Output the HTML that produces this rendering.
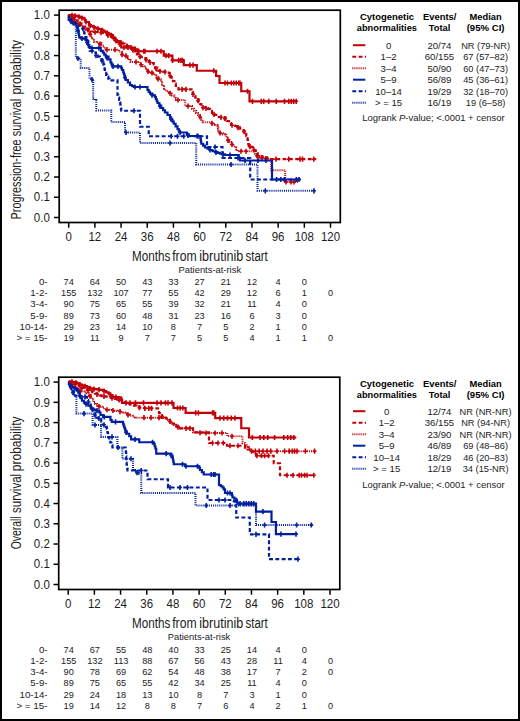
<!DOCTYPE html>
<html><head><meta charset="utf-8"><style>
html,body{margin:0;padding:0;background:#fff;}
body{width:520px;height:721px;overflow:hidden;position:relative;}
svg{position:absolute;left:0;top:0;display:block;font-family:"Liberation Sans",sans-serif;}
text{fill:#1c1c1c;}
</style></head><body>
<svg width="520" height="721" viewBox="0 0 520 721">
<rect x="1" y="1" width="518" height="719" fill="#fff" stroke="#000" stroke-width="2"/>
<g transform="translate(0.0,0)">
<rect x="59.2" y="10.20" width="281.1" height="212.3" fill="none" stroke="#000" stroke-width="1.7"/>
<line x1="54.0" y1="15.10" x2="59.2" y2="15.10" stroke="#000" stroke-width="1.5"/>
<line x1="54.0" y1="35.34" x2="59.2" y2="35.34" stroke="#000" stroke-width="1.5"/>
<line x1="54.0" y1="55.58" x2="59.2" y2="55.58" stroke="#000" stroke-width="1.5"/>
<line x1="54.0" y1="75.82" x2="59.2" y2="75.82" stroke="#000" stroke-width="1.5"/>
<line x1="54.0" y1="96.06" x2="59.2" y2="96.06" stroke="#000" stroke-width="1.5"/>
<line x1="54.0" y1="116.30" x2="59.2" y2="116.30" stroke="#000" stroke-width="1.5"/>
<line x1="54.0" y1="136.54" x2="59.2" y2="136.54" stroke="#000" stroke-width="1.5"/>
<line x1="54.0" y1="156.78" x2="59.2" y2="156.78" stroke="#000" stroke-width="1.5"/>
<line x1="54.0" y1="177.02" x2="59.2" y2="177.02" stroke="#000" stroke-width="1.5"/>
<line x1="54.0" y1="197.26" x2="59.2" y2="197.26" stroke="#000" stroke-width="1.5"/>
<line x1="54.0" y1="217.50" x2="59.2" y2="217.50" stroke="#000" stroke-width="1.5"/>
<line x1="68.70" y1="222.50" x2="68.70" y2="227.70" stroke="#000" stroke-width="1.5"/>
<text x="68.70" y="240.50" font-size="12.0" text-anchor="middle" textLength="6.4" lengthAdjust="spacingAndGlyphs">0</text>
<line x1="94.88" y1="222.50" x2="94.88" y2="227.70" stroke="#000" stroke-width="1.5"/>
<text x="94.88" y="240.50" font-size="12.0" text-anchor="middle" textLength="12.79" lengthAdjust="spacingAndGlyphs">12</text>
<line x1="121.06" y1="222.50" x2="121.06" y2="227.70" stroke="#000" stroke-width="1.5"/>
<text x="121.06" y="240.50" font-size="12.0" text-anchor="middle" textLength="12.79" lengthAdjust="spacingAndGlyphs">24</text>
<line x1="147.24" y1="222.50" x2="147.24" y2="227.70" stroke="#000" stroke-width="1.5"/>
<text x="147.24" y="240.50" font-size="12.0" text-anchor="middle" textLength="12.79" lengthAdjust="spacingAndGlyphs">36</text>
<line x1="173.42" y1="222.50" x2="173.42" y2="227.70" stroke="#000" stroke-width="1.5"/>
<text x="173.42" y="240.50" font-size="12.0" text-anchor="middle" textLength="12.79" lengthAdjust="spacingAndGlyphs">48</text>
<line x1="199.60" y1="222.50" x2="199.60" y2="227.70" stroke="#000" stroke-width="1.5"/>
<text x="199.60" y="240.50" font-size="12.0" text-anchor="middle" textLength="12.79" lengthAdjust="spacingAndGlyphs">60</text>
<line x1="225.78" y1="222.50" x2="225.78" y2="227.70" stroke="#000" stroke-width="1.5"/>
<text x="225.78" y="240.50" font-size="12.0" text-anchor="middle" textLength="12.79" lengthAdjust="spacingAndGlyphs">72</text>
<line x1="251.96" y1="222.50" x2="251.96" y2="227.70" stroke="#000" stroke-width="1.5"/>
<text x="251.96" y="240.50" font-size="12.0" text-anchor="middle" textLength="12.79" lengthAdjust="spacingAndGlyphs">84</text>
<line x1="278.14" y1="222.50" x2="278.14" y2="227.70" stroke="#000" stroke-width="1.5"/>
<text x="278.14" y="240.50" font-size="12.0" text-anchor="middle" textLength="12.79" lengthAdjust="spacingAndGlyphs">96</text>
<line x1="304.32" y1="222.50" x2="304.32" y2="227.70" stroke="#000" stroke-width="1.5"/>
<text x="304.32" y="240.50" font-size="12.0" text-anchor="middle" textLength="19.19" lengthAdjust="spacingAndGlyphs">108</text>
<line x1="330.50" y1="222.50" x2="330.50" y2="227.70" stroke="#000" stroke-width="1.5"/>
<text x="330.50" y="240.50" font-size="12.0" text-anchor="middle" textLength="19.19" lengthAdjust="spacingAndGlyphs">120</text>
</g>
<path d="M68.70,15.00 H72.00 V18.00 H74.75 V20.50 H77.50 V23.00 H79.45 V24.75 H81.40 V26.50 H83.45 V28.25 H85.50 V30.00 H88.30 V31.00 H89.75 V33.65 H91.20 V36.30 H92.17 V38.23 H93.13 V40.17 H94.10 V42.10 H96.50 V42.60 H98.90 V43.10 H101.30 V45.50 H103.70 V47.90 H105.70 V49.70 L117.20,49.70 H119.10 V51.70 H122.00 V54.60 H124.65 V55.50 H127.30 V56.40 H128.03 V58.20 H128.75 V60.00 H130.60 V62.00 L138.75,62.00 H140.00 V63.75 H142.50 V66.25 H144.38 V67.50 H146.25 V68.75 H147.50 V71.25 H149.38 V71.88 H151.25 V72.50 H153.75 V73.75 H155.00 V75.62 H156.25 V77.50 H158.75 V79.40 H161.25 V82.50 H162.19 V84.55 H163.12 V86.60 H164.06 V88.65 H165.00 V90.70 H167.00 V91.35 H169.00 V92.00 H170.35 V93.70 H171.70 V95.40 H174.40 V98.00 H175.80 V100.00 L185.20,100.00 L185.20,106.10 L190.60,106.10 H192.00 V108.80 H194.00 V110.85 H196.00 V112.90 H198.00 V114.95 H200.00 V117.00 H201.35 V119.65 H202.70 V122.30 L210.00,122.30 H212.50 V123.63 H215.00 V124.97 H217.50 V126.30 H217.92 V128.37 H218.33 V130.43 H218.75 V132.50 H220.83 V133.33 H222.92 V134.17 H225.00 V135.00 H226.25 V137.50 H227.50 V140.00 H229.38 V141.88 H231.25 V143.75 H233.12 V145.62 H235.00 V147.50 H236.25 V149.38 H237.50 V151.25 L252.50,151.25 H255.00 V153.75 H256.88 V155.62 H258.75 V157.50 H260.94 V157.81 H263.12 V158.12 H265.31 V158.44 H267.50 V158.75 H269.40 V158.97 H271.30 V159.20 L271.30,170.30 L285.20,170.30 L285.20,182.00 L298.20,182.00" fill="none" stroke="#c30008" stroke-width="2.0" stroke-dasharray="1 1.08"/>
<path d="M90.00,31.51V36.71M88.10,34.11H91.90" stroke="#c30008" stroke-width="1.6" fill="none"/>
<path d="M100.00,41.60V46.80M98.10,44.20H101.90" stroke="#c30008" stroke-width="1.6" fill="none"/>
<path d="M107.00,47.10V52.30M105.10,49.70H108.90" stroke="#c30008" stroke-width="1.6" fill="none"/>
<path d="M115.00,47.10V52.30M113.10,49.70H116.90" stroke="#c30008" stroke-width="1.6" fill="none"/>
<path d="M122.00,52.00V57.20M120.10,54.60H123.90" stroke="#c30008" stroke-width="1.6" fill="none"/>
<path d="M126.00,53.36V58.56M124.10,55.96H127.90" stroke="#c30008" stroke-width="1.6" fill="none"/>
<path d="M136.00,59.40V64.60M134.10,62.00H137.90" stroke="#c30008" stroke-width="1.6" fill="none"/>
<path d="M141.00,62.15V67.35M139.10,64.75H142.90" stroke="#c30008" stroke-width="1.6" fill="none"/>
<path d="M148.00,68.82V74.02M146.10,71.42H149.90" stroke="#c30008" stroke-width="1.6" fill="none"/>
<path d="M152.00,70.28V75.47M150.10,72.88H153.90" stroke="#c30008" stroke-width="1.6" fill="none"/>
<path d="M158.00,76.23V81.43M156.10,78.83H159.90" stroke="#c30008" stroke-width="1.6" fill="none"/>
<path d="M170.00,90.66V95.86M168.10,93.26H171.90" stroke="#c30008" stroke-width="1.6" fill="none"/>
<path d="M178.00,97.40V102.60M176.10,100.00H179.90" stroke="#c30008" stroke-width="1.6" fill="none"/>
<path d="M188.00,103.50V108.70M186.10,106.10H189.90" stroke="#c30008" stroke-width="1.6" fill="none"/>
<path d="M200.00,114.40V119.60M198.10,117.00H201.90" stroke="#c30008" stroke-width="1.6" fill="none"/>
<path d="M212.00,120.77V125.97M210.10,123.37H213.90" stroke="#c30008" stroke-width="1.6" fill="none"/>
<path d="M220.00,130.40V135.60M218.10,133.00H221.90" stroke="#c30008" stroke-width="1.6" fill="none"/>
<path d="M228.00,137.90V143.10M226.10,140.50H229.90" stroke="#c30008" stroke-width="1.6" fill="none"/>
<path d="M232.00,141.90V147.10M230.10,144.50H233.90" stroke="#c30008" stroke-width="1.6" fill="none"/>
<path d="M241.00,148.65V153.85M239.10,151.25H242.90" stroke="#c30008" stroke-width="1.6" fill="none"/>
<path d="M246.00,148.65V153.85M244.10,151.25H247.90" stroke="#c30008" stroke-width="1.6" fill="none"/>
<path d="M257.00,153.15V158.35M255.10,155.75H258.90" stroke="#c30008" stroke-width="1.6" fill="none"/>
<path d="M262.00,155.36V160.56M260.10,157.96H263.90" stroke="#c30008" stroke-width="1.6" fill="none"/>
<path d="M266.00,155.94V161.14M264.10,158.54H267.90" stroke="#c30008" stroke-width="1.6" fill="none"/>
<path d="M286.00,179.40V184.60M284.10,182.00H287.90" stroke="#c30008" stroke-width="1.6" fill="none"/>
<path d="M291.00,179.40V184.60M289.10,182.00H292.90" stroke="#c30008" stroke-width="1.6" fill="none"/>
<path d="M294.00,179.40V184.60M292.10,182.00H295.90" stroke="#c30008" stroke-width="1.6" fill="none"/>
<path d="M68.70,15.00 H70.50 V18.00 H72.00 V20.00 H72.75 V22.00 H73.50 V24.00 H75.80 V26.00 L75.80,57.50 H77.80 V58.50 L80.70,58.50 L80.70,68.00 L89.50,68.00 L89.50,78.70 H92.20 V79.60 L93.20,79.60 L93.20,98.75 H95.00 V100.00 L96.25,100.00 L96.25,110.50 L111.25,110.50 L111.25,122.00 L125.00,122.00 L125.00,132.50 L140.00,132.50 L140.00,143.00 L196.25,143.00 L196.25,164.50 L257.50,164.50 L257.50,190.80 L314.60,190.80" fill="none" stroke="#0020a0" stroke-width="2.0" stroke-dasharray="1 1.08"/>
<path d="M73.00,20.07V25.27M71.10,22.67H74.90" stroke="#0020a0" stroke-width="1.6" fill="none"/>
<path d="M78.00,55.90V61.10M76.10,58.50H79.90" stroke="#0020a0" stroke-width="1.6" fill="none"/>
<path d="M92.00,76.93V82.13M90.10,79.53H93.90" stroke="#0020a0" stroke-width="1.6" fill="none"/>
<path d="M126.00,129.90V135.10M124.10,132.50H127.90" stroke="#0020a0" stroke-width="1.6" fill="none"/>
<path d="M170.00,140.40V145.60M168.10,143.00H171.90" stroke="#0020a0" stroke-width="1.6" fill="none"/>
<path d="M231.00,161.90V167.10M229.10,164.50H232.90" stroke="#0020a0" stroke-width="1.6" fill="none"/>
<path d="M265.30,188.20V193.40M263.40,190.80H267.20" stroke="#0020a0" stroke-width="1.6" fill="none"/>
<path d="M314.00,188.20V193.40M312.10,190.80H315.90" stroke="#0020a0" stroke-width="1.6" fill="none"/>
<path d="M68.70,15.00 H69.35 V17.50 H70.00 V20.00 H72.00 V21.00 H74.00 V22.00 H75.75 V23.50 H77.50 V25.00 H79.25 V26.00 H81.00 V27.00 H83.50 V29.00 H83.83 V31.00 H84.17 V33.00 H84.50 V35.00 H85.45 V37.10 H86.40 V39.20 H87.35 V41.15 H88.30 V43.10 H88.80 V45.05 H89.30 V47.00 H89.55 V48.90 H89.80 V50.80 L95.00,50.80 H95.50 V53.20 H96.00 V55.60 H97.95 V56.55 H99.90 V57.50 H101.35 V59.90 H102.80 V62.30 H103.50 V64.70 H104.20 V67.10 H104.53 V69.03 H104.87 V70.97 H105.20 V72.90 H106.15 V74.80 H107.10 V76.70 H108.30 V78.55 H109.50 V80.40 L117.50,80.40 L117.50,95.00 H118.33 V97.50 H119.17 V100.00 H120.00 V102.50 H120.31 V104.56 H120.62 V106.62 H120.94 V108.69 H121.25 V110.75 L140.00,110.75 L140.00,126.75 L148.75,126.75 L148.75,136.25 L207.00,136.25 L207.00,147.00 L222.50,147.00 L222.50,158.00 L250.20,158.00 L250.20,179.50 L300.00,179.50" fill="none" stroke="#0020a0" stroke-width="2.2" stroke-dasharray="3.9 2.4"/>
<path d="M73.00,18.90V24.10M71.10,21.50H74.90" stroke="#0020a0" stroke-width="1.6" fill="none"/>
<path d="M83.00,26.00V31.20M81.10,28.60H84.90" stroke="#0020a0" stroke-width="1.6" fill="none"/>
<path d="M92.00,48.20V53.40M90.10,50.80H93.90" stroke="#0020a0" stroke-width="1.6" fill="none"/>
<path d="M96.00,53.00V58.20M94.10,55.60H97.90" stroke="#0020a0" stroke-width="1.6" fill="none"/>
<path d="M102.00,58.38V63.58M100.10,60.98H103.90" stroke="#0020a0" stroke-width="1.6" fill="none"/>
<path d="M134.00,108.15V113.35M132.10,110.75H135.90" stroke="#0020a0" stroke-width="1.6" fill="none"/>
<path d="M171.25,133.65V138.85M169.35,136.25H173.15" stroke="#0020a0" stroke-width="1.6" fill="none"/>
<path d="M177.50,133.65V138.85M175.60,136.25H179.40" stroke="#0020a0" stroke-width="1.6" fill="none"/>
<path d="M183.75,133.65V138.85M181.85,136.25H185.65" stroke="#0020a0" stroke-width="1.6" fill="none"/>
<path d="M198.00,133.65V138.85M196.10,136.25H199.90" stroke="#0020a0" stroke-width="1.6" fill="none"/>
<path d="M215.00,144.40V149.60M213.10,147.00H216.90" stroke="#0020a0" stroke-width="1.6" fill="none"/>
<path d="M238.00,155.40V160.60M236.10,158.00H239.90" stroke="#0020a0" stroke-width="1.6" fill="none"/>
<path d="M68.70,15.00 L68.70,20.00 H72.00 V22.50 H73.90 V23.15 H75.80 V23.80 H76.47 V25.73 H77.13 V27.67 H77.80 V29.60 H78.27 V32.17 H78.73 V34.73 H79.20 V37.30 H80.70 V38.30 H83.50 V38.75 H85.50 V40.20 H87.40 V43.10 H88.10 V45.05 H88.80 V47.00 H89.80 V48.00 L99.90,48.00 H100.80 V50.80 H102.80 V52.70 H104.25 V54.60 H105.70 V56.50 H108.50 V59.40 H110.50 V62.30 H111.45 V64.35 H112.40 V66.40 L120.50,66.40 H121.25 V68.20 H122.00 V70.00 H123.25 V72.50 H123.88 V74.25 H124.50 V76.00 H125.12 V78.00 H125.75 V80.00 H127.88 V82.50 H130.00 V85.00 H131.88 V86.00 H133.75 V87.00 L145.00,87.00 H147.50 V90.00 H148.75 V91.88 H150.00 V93.75 H152.50 V95.38 H155.00 V97.00 H155.83 V99.00 H156.67 V101.00 H157.50 V103.00 H159.38 V105.50 H161.25 V108.00 H163.12 V110.25 H165.00 V112.50 H167.50 V115.00 H170.00 V117.50 H171.25 V119.58 H172.50 V121.67 H173.75 V123.75 H175.62 V126.38 H177.50 V129.00 H178.75 V130.75 H180.00 V132.50 L185.00,132.50 H186.88 V134.25 H188.75 V136.00 L200.00,136.00 H200.31 V137.94 H200.62 V139.88 H200.94 V141.81 H201.25 V143.75 H203.12 V145.62 H205.00 V147.50 H207.50 V148.75 H210.00 V150.00 H212.50 V151.25 H215.00 V152.08 H217.50 V152.92 H220.00 V153.75 H222.50 V154.38 H225.00 V155.00 L237.50,155.00 H238.75 V157.75 H240.00 V160.50 L272.00,160.50 L272.00,179.50 L300.80,179.50" fill="none" stroke="#0020a0" stroke-width="2.2"/>
<path d="M71.00,19.14V24.34M69.10,21.74H72.90" stroke="#0020a0" stroke-width="1.6" fill="none"/>
<path d="M74.00,20.58V25.78M72.10,23.18H75.90" stroke="#0020a0" stroke-width="1.6" fill="none"/>
<path d="M78.00,28.10V33.30M76.10,30.70H79.90" stroke="#0020a0" stroke-width="1.6" fill="none"/>
<path d="M82.00,35.91V41.11M80.10,38.51H83.90" stroke="#0020a0" stroke-width="1.6" fill="none"/>
<path d="M87.00,39.89V45.09M85.10,42.49H88.90" stroke="#0020a0" stroke-width="1.6" fill="none"/>
<path d="M92.00,45.40V50.60M90.10,48.00H93.90" stroke="#0020a0" stroke-width="1.6" fill="none"/>
<path d="M98.75,45.40V50.60M96.85,48.00H100.65" stroke="#0020a0" stroke-width="1.6" fill="none"/>
<path d="M107.00,55.25V60.45M105.10,57.85H108.90" stroke="#0020a0" stroke-width="1.6" fill="none"/>
<path d="M113.00,63.80V69.00M111.10,66.40H114.90" stroke="#0020a0" stroke-width="1.6" fill="none"/>
<path d="M118.00,63.80V69.00M116.10,66.40H119.90" stroke="#0020a0" stroke-width="1.6" fill="none"/>
<path d="M125.00,75.00V80.20M123.10,77.60H126.90" stroke="#0020a0" stroke-width="1.6" fill="none"/>
<path d="M135.00,84.40V89.60M133.10,87.00H136.90" stroke="#0020a0" stroke-width="1.6" fill="none"/>
<path d="M140.00,84.40V89.60M138.10,87.00H141.90" stroke="#0020a0" stroke-width="1.6" fill="none"/>
<path d="M152.00,92.45V97.65M150.10,95.05H153.90" stroke="#0020a0" stroke-width="1.6" fill="none"/>
<path d="M160.00,103.73V108.93M158.10,106.33H161.90" stroke="#0020a0" stroke-width="1.6" fill="none"/>
<path d="M171.00,116.57V121.77M169.10,119.17H172.90" stroke="#0020a0" stroke-width="1.6" fill="none"/>
<path d="M180.00,129.90V135.10M178.10,132.50H181.90" stroke="#0020a0" stroke-width="1.6" fill="none"/>
<path d="M188.00,132.70V137.90M186.10,135.30H189.90" stroke="#0020a0" stroke-width="1.6" fill="none"/>
<path d="M197.00,133.40V138.60M195.10,136.00H198.90" stroke="#0020a0" stroke-width="1.6" fill="none"/>
<path d="M210.00,147.40V152.60M208.10,150.00H211.90" stroke="#0020a0" stroke-width="1.6" fill="none"/>
<path d="M216.00,149.82V155.02M214.10,152.42H217.90" stroke="#0020a0" stroke-width="1.6" fill="none"/>
<path d="M223.00,151.90V157.10M221.10,154.50H224.90" stroke="#0020a0" stroke-width="1.6" fill="none"/>
<path d="M230.00,152.40V157.60M228.10,155.00H231.90" stroke="#0020a0" stroke-width="1.6" fill="none"/>
<path d="M245.00,157.90V163.10M243.10,160.50H246.90" stroke="#0020a0" stroke-width="1.6" fill="none"/>
<path d="M258.00,157.90V163.10M256.10,160.50H259.90" stroke="#0020a0" stroke-width="1.6" fill="none"/>
<path d="M266.00,157.90V163.10M264.10,160.50H267.90" stroke="#0020a0" stroke-width="1.6" fill="none"/>
<path d="M276.50,176.90V182.10M274.60,179.50H278.40" stroke="#0020a0" stroke-width="1.6" fill="none"/>
<path d="M280.90,176.90V182.10M279.00,179.50H282.80" stroke="#0020a0" stroke-width="1.6" fill="none"/>
<path d="M284.30,176.90V182.10M282.40,179.50H286.20" stroke="#0020a0" stroke-width="1.6" fill="none"/>
<path d="M296.40,176.90V182.10M294.50,179.50H298.30" stroke="#0020a0" stroke-width="1.6" fill="none"/>
<path d="M299.00,176.90V182.10M297.10,179.50H300.90" stroke="#0020a0" stroke-width="1.6" fill="none"/>
<path d="M68.70,15.00 H71.00 V18.00 H73.17 V19.17 H75.33 V20.33 H77.50 V21.50 H79.45 V23.25 H81.40 V25.00 H83.30 V26.50 H85.20 V28.00 H87.10 V29.25 H89.00 V30.50 H90.95 V31.50 H92.90 V32.50 H94.85 V32.25 H96.80 V32.00 H98.70 V32.25 H100.60 V32.50 H102.55 V33.00 H104.50 V33.50 H106.67 V34.67 H108.83 V35.83 H111.00 V37.00 H113.27 V38.33 H115.53 V39.67 H117.80 V41.00 H120.07 V42.33 H122.33 V43.67 H124.60 V45.00 H126.67 V46.00 H128.75 V47.00 H130.62 V48.25 H132.50 V49.50 H135.00 V52.50 H136.88 V54.38 H138.75 V56.25 H141.25 V57.17 H143.75 V58.10 H146.25 V60.00 H148.75 V62.00 H151.25 V63.00 H153.75 V64.40 H155.00 V67.50 H157.50 V70.60 H160.00 V71.25 H162.50 V71.62 H165.00 V72.00 H166.88 V72.50 H168.75 V73.00 H169.73 V75.07 H170.72 V77.13 H171.70 V79.20 H173.00 V81.20 H174.40 V83.60 H175.80 V86.00 H178.50 V89.30 L190.60,89.30 H192.60 V92.00 H192.95 V94.00 H193.30 V96.00 H195.30 V97.70 H197.30 V99.40 H198.65 V101.70 H200.00 V104.00 H201.35 V105.75 H202.70 V107.50 H205.35 V108.15 H208.00 V108.80 H210.00 V110.85 H212.00 V112.90 H214.75 V114.95 H217.50 V117.00 H219.73 V117.20 H221.97 V117.40 H224.20 V117.60 H225.55 V119.30 H226.90 V121.00 H228.95 V123.00 H231.00 V125.00 H233.00 V125.50 H235.00 V126.00 H237.50 V127.38 H240.00 V128.75 H241.88 V130.00 H243.75 V131.25 H245.00 V133.75 H246.25 V136.25 H246.88 V138.12 H247.50 V140.00 H247.92 V142.08 H248.33 V144.17 H248.75 V146.25 H250.62 V146.88 H252.50 V147.50 H254.15 V150.25 H255.80 V153.00 H257.50 V155.60 H259.80 V156.17 H262.10 V156.73 H264.40 V157.30 H267.00 V158.25 H269.60 V159.20 L316.30,159.20" fill="none" stroke="#c30008" stroke-width="2.2" stroke-dasharray="3.9 2.4"/>
<path d="M74.00,17.02V22.22M72.10,19.62H75.90" stroke="#c30008" stroke-width="1.6" fill="none"/>
<path d="M80.00,21.14V26.34M78.10,23.74H81.90" stroke="#c30008" stroke-width="1.6" fill="none"/>
<path d="M88.00,27.24V32.44M86.10,29.84H89.90" stroke="#c30008" stroke-width="1.6" fill="none"/>
<path d="M95.00,29.63V34.83M93.10,32.23H96.90" stroke="#c30008" stroke-width="1.6" fill="none"/>
<path d="M101.00,30.00V35.20M99.10,32.60H102.90" stroke="#c30008" stroke-width="1.6" fill="none"/>
<path d="M108.00,32.78V37.98M106.10,35.38H109.90" stroke="#c30008" stroke-width="1.6" fill="none"/>
<path d="M114.00,36.16V41.36M112.10,38.76H115.90" stroke="#c30008" stroke-width="1.6" fill="none"/>
<path d="M121.00,40.28V45.48M119.10,42.88H122.90" stroke="#c30008" stroke-width="1.6" fill="none"/>
<path d="M127.00,43.56V48.76M125.10,46.16H128.90" stroke="#c30008" stroke-width="1.6" fill="none"/>
<path d="M133.00,47.50V52.70M131.10,50.10H134.90" stroke="#c30008" stroke-width="1.6" fill="none"/>
<path d="M140.00,54.11V59.31M138.10,56.71H141.90" stroke="#c30008" stroke-width="1.6" fill="none"/>
<path d="M146.00,57.21V62.41M144.10,59.81H147.90" stroke="#c30008" stroke-width="1.6" fill="none"/>
<path d="M150.00,59.90V65.10M148.10,62.50H151.90" stroke="#c30008" stroke-width="1.6" fill="none"/>
<path d="M156.00,66.14V71.34M154.10,68.74H157.90" stroke="#c30008" stroke-width="1.6" fill="none"/>
<path d="M160.00,68.65V73.85M158.10,71.25H161.90" stroke="#c30008" stroke-width="1.6" fill="none"/>
<path d="M165.00,69.40V74.60M163.10,72.00H166.90" stroke="#c30008" stroke-width="1.6" fill="none"/>
<path d="M170.00,73.03V78.23M168.10,75.63H171.90" stroke="#c30008" stroke-width="1.6" fill="none"/>
<path d="M182.00,86.70V91.90M180.10,89.30H183.90" stroke="#c30008" stroke-width="1.6" fill="none"/>
<path d="M186.00,86.70V91.90M184.10,89.30H187.90" stroke="#c30008" stroke-width="1.6" fill="none"/>
<path d="M193.00,91.69V96.89M191.10,94.29H194.90" stroke="#c30008" stroke-width="1.6" fill="none"/>
<path d="M198.00,97.99V103.19M196.10,100.59H199.90" stroke="#c30008" stroke-width="1.6" fill="none"/>
<path d="M203.00,104.97V110.17M201.10,107.57H204.90" stroke="#c30008" stroke-width="1.6" fill="none"/>
<path d="M206.00,105.71V110.91M204.10,108.31H207.90" stroke="#c30008" stroke-width="1.6" fill="none"/>
<path d="M214.00,111.79V116.99M212.10,114.39H215.90" stroke="#c30008" stroke-width="1.6" fill="none"/>
<path d="M221.00,114.71V119.91M219.10,117.31H222.90" stroke="#c30008" stroke-width="1.6" fill="none"/>
<path d="M225.00,116.01V121.21M223.10,118.61H226.90" stroke="#c30008" stroke-width="1.6" fill="none"/>
<path d="M232.00,122.65V127.85M230.10,125.25H233.90" stroke="#c30008" stroke-width="1.6" fill="none"/>
<path d="M238.00,125.05V130.25M236.10,127.65H239.90" stroke="#c30008" stroke-width="1.6" fill="none"/>
<path d="M244.00,129.15V134.35M242.10,131.75H245.90" stroke="#c30008" stroke-width="1.6" fill="none"/>
<path d="M250.00,144.07V149.27M248.10,146.67H251.90" stroke="#c30008" stroke-width="1.6" fill="none"/>
<path d="M254.00,147.40V152.60M252.10,150.00H255.90" stroke="#c30008" stroke-width="1.6" fill="none"/>
<path d="M258.00,153.12V158.32M256.10,155.72H259.90" stroke="#c30008" stroke-width="1.6" fill="none"/>
<path d="M276.00,156.60V161.80M274.10,159.20H277.90" stroke="#c30008" stroke-width="1.6" fill="none"/>
<path d="M288.75,156.60V161.80M286.85,159.20H290.65" stroke="#c30008" stroke-width="1.6" fill="none"/>
<path d="M300.00,156.60V161.80M298.10,159.20H301.90" stroke="#c30008" stroke-width="1.6" fill="none"/>
<path d="M302.50,156.60V161.80M300.60,159.20H304.40" stroke="#c30008" stroke-width="1.6" fill="none"/>
<path d="M313.75,156.60V161.80M311.85,159.20H315.65" stroke="#c30008" stroke-width="1.6" fill="none"/>
<path d="M68.70,15.00 H70.60 V15.30 H72.90 V15.55 H75.20 V15.80 H77.50 V16.50 H79.80 V17.20 H81.75 V17.95 H83.70 V18.70 H84.85 V20.35 H86.00 V22.00 H89.00 V25.20 H90.95 V26.10 H92.90 V27.00 H94.85 V27.75 H96.80 V28.50 H98.70 V29.00 H100.60 V29.50 H102.55 V30.65 H104.50 V31.80 H106.67 V32.87 H108.83 V33.93 H111.00 V35.00 H113.00 V37.50 H115.00 V40.00 H116.88 V41.88 H118.75 V43.75 H120.00 V45.62 H121.25 V47.50 L132.50,47.50 H135.00 V49.40 H137.50 V51.25 L163.75,51.25 L163.75,55.60 L172.40,55.60 L172.40,60.40 L183.80,60.40 L183.80,65.10 L196.80,65.10 L196.80,70.75 L216.10,70.75 L216.10,76.00 L219.50,76.00 L219.50,83.00 L241.25,83.00 L241.25,91.25 L249.50,91.25 L249.50,101.30 L297.00,101.30" fill="none" stroke="#c30008" stroke-width="2.2"/>
<path d="M72.00,12.85V18.05M70.10,15.45H73.90" stroke="#c30008" stroke-width="1.6" fill="none"/>
<path d="M75.00,13.18V18.38M73.10,15.78H76.90" stroke="#c30008" stroke-width="1.6" fill="none"/>
<path d="M79.00,14.36V19.56M77.10,16.96H80.90" stroke="#c30008" stroke-width="1.6" fill="none"/>
<path d="M82.00,15.45V20.65M80.10,18.05H83.90" stroke="#c30008" stroke-width="1.6" fill="none"/>
<path d="M86.00,19.40V24.60M84.10,22.00H87.90" stroke="#c30008" stroke-width="1.6" fill="none"/>
<path d="M90.00,23.06V28.26M88.10,25.66H91.90" stroke="#c30008" stroke-width="1.6" fill="none"/>
<path d="M94.00,24.82V30.02M92.10,27.42H95.90" stroke="#c30008" stroke-width="1.6" fill="none"/>
<path d="M98.00,26.22V31.42M96.10,28.82H99.90" stroke="#c30008" stroke-width="1.6" fill="none"/>
<path d="M102.00,27.73V32.93M100.10,30.33H103.90" stroke="#c30008" stroke-width="1.6" fill="none"/>
<path d="M107.00,30.43V35.63M105.10,33.03H108.90" stroke="#c30008" stroke-width="1.6" fill="none"/>
<path d="M112.00,33.65V38.85M110.10,36.25H113.90" stroke="#c30008" stroke-width="1.6" fill="none"/>
<path d="M116.00,38.40V43.60M114.10,41.00H117.90" stroke="#c30008" stroke-width="1.6" fill="none"/>
<path d="M124.00,44.90V50.10M122.10,47.50H125.90" stroke="#c30008" stroke-width="1.6" fill="none"/>
<path d="M128.00,44.90V50.10M126.10,47.50H129.90" stroke="#c30008" stroke-width="1.6" fill="none"/>
<path d="M131.00,44.90V50.10M129.10,47.50H132.90" stroke="#c30008" stroke-width="1.6" fill="none"/>
<path d="M137.50,48.65V53.85M135.60,51.25H139.40" stroke="#c30008" stroke-width="1.6" fill="none"/>
<path d="M138.75,48.65V53.85M136.85,51.25H140.65" stroke="#c30008" stroke-width="1.6" fill="none"/>
<path d="M143.75,48.65V53.85M141.85,51.25H145.65" stroke="#c30008" stroke-width="1.6" fill="none"/>
<path d="M145.00,48.65V53.85M143.10,51.25H146.90" stroke="#c30008" stroke-width="1.6" fill="none"/>
<path d="M157.00,48.65V53.85M155.10,51.25H158.90" stroke="#c30008" stroke-width="1.6" fill="none"/>
<path d="M161.00,48.65V53.85M159.10,51.25H162.90" stroke="#c30008" stroke-width="1.6" fill="none"/>
<path d="M166.00,53.00V58.20M164.10,55.60H167.90" stroke="#c30008" stroke-width="1.6" fill="none"/>
<path d="M168.75,53.00V58.20M166.85,55.60H170.65" stroke="#c30008" stroke-width="1.6" fill="none"/>
<path d="M172.50,57.80V63.00M170.60,60.40H174.40" stroke="#c30008" stroke-width="1.6" fill="none"/>
<path d="M178.75,57.80V63.00M176.85,60.40H180.65" stroke="#c30008" stroke-width="1.6" fill="none"/>
<path d="M181.00,57.80V63.00M179.10,60.40H182.90" stroke="#c30008" stroke-width="1.6" fill="none"/>
<path d="M182.50,57.80V63.00M180.60,60.40H184.40" stroke="#c30008" stroke-width="1.6" fill="none"/>
<path d="M190.00,62.50V67.70M188.10,65.10H191.90" stroke="#c30008" stroke-width="1.6" fill="none"/>
<path d="M193.00,62.50V67.70M191.10,65.10H194.90" stroke="#c30008" stroke-width="1.6" fill="none"/>
<path d="M213.75,68.15V73.35M211.85,70.75H215.65" stroke="#c30008" stroke-width="1.6" fill="none"/>
<path d="M225.00,80.40V85.60M223.10,83.00H226.90" stroke="#c30008" stroke-width="1.6" fill="none"/>
<path d="M227.50,80.40V85.60M225.60,83.00H229.40" stroke="#c30008" stroke-width="1.6" fill="none"/>
<path d="M231.25,80.40V85.60M229.35,83.00H233.15" stroke="#c30008" stroke-width="1.6" fill="none"/>
<path d="M233.75,80.40V85.60M231.85,83.00H235.65" stroke="#c30008" stroke-width="1.6" fill="none"/>
<path d="M236.25,80.40V85.60M234.35,83.00H238.15" stroke="#c30008" stroke-width="1.6" fill="none"/>
<path d="M238.75,80.40V85.60M236.85,83.00H240.65" stroke="#c30008" stroke-width="1.6" fill="none"/>
<path d="M240.00,80.40V85.60M238.10,83.00H241.90" stroke="#c30008" stroke-width="1.6" fill="none"/>
<path d="M247.50,88.65V93.85M245.60,91.25H249.40" stroke="#c30008" stroke-width="1.6" fill="none"/>
<path d="M252.50,98.70V103.90M250.60,101.30H254.40" stroke="#c30008" stroke-width="1.6" fill="none"/>
<path d="M261.25,98.70V103.90M259.35,101.30H263.15" stroke="#c30008" stroke-width="1.6" fill="none"/>
<path d="M263.75,98.70V103.90M261.85,101.30H265.65" stroke="#c30008" stroke-width="1.6" fill="none"/>
<path d="M268.75,98.70V103.90M266.85,101.30H270.65" stroke="#c30008" stroke-width="1.6" fill="none"/>
<path d="M276.25,98.70V103.90M274.35,101.30H278.15" stroke="#c30008" stroke-width="1.6" fill="none"/>
<path d="M284.50,98.70V103.90M282.60,101.30H286.40" stroke="#c30008" stroke-width="1.6" fill="none"/>
<path d="M288.75,98.70V103.90M286.85,101.30H290.65" stroke="#c30008" stroke-width="1.6" fill="none"/>
<path d="M291.25,98.70V103.90M289.35,101.30H293.15" stroke="#c30008" stroke-width="1.6" fill="none"/>
<path d="M293.75,98.70V103.90M291.85,101.30H295.65" stroke="#c30008" stroke-width="1.6" fill="none"/>
<path d="M296.25,98.70V103.90M294.35,101.30H298.15" stroke="#c30008" stroke-width="1.6" fill="none"/>
<text x="49.80" y="19.30" font-size="12.0" text-anchor="end" textLength="15.98" lengthAdjust="spacingAndGlyphs">1.0</text>
<text x="49.80" y="39.54" font-size="12.0" text-anchor="end" textLength="15.98" lengthAdjust="spacingAndGlyphs">0.9</text>
<text x="49.80" y="59.78" font-size="12.0" text-anchor="end" textLength="15.98" lengthAdjust="spacingAndGlyphs">0.8</text>
<text x="49.80" y="80.02" font-size="12.0" text-anchor="end" textLength="15.98" lengthAdjust="spacingAndGlyphs">0.7</text>
<text x="49.80" y="100.26" font-size="12.0" text-anchor="end" textLength="15.98" lengthAdjust="spacingAndGlyphs">0.6</text>
<text x="49.80" y="120.50" font-size="12.0" text-anchor="end" textLength="15.98" lengthAdjust="spacingAndGlyphs">0.5</text>
<text x="49.80" y="140.74" font-size="12.0" text-anchor="end" textLength="15.98" lengthAdjust="spacingAndGlyphs">0.4</text>
<text x="49.80" y="160.98" font-size="12.0" text-anchor="end" textLength="15.98" lengthAdjust="spacingAndGlyphs">0.3</text>
<text x="49.80" y="181.22" font-size="12.0" text-anchor="end" textLength="15.98" lengthAdjust="spacingAndGlyphs">0.2</text>
<text x="49.80" y="201.46" font-size="12.0" text-anchor="end" textLength="15.98" lengthAdjust="spacingAndGlyphs">0.1</text>
<text x="49.80" y="221.70" font-size="12.0" text-anchor="end" textLength="15.98" lengthAdjust="spacingAndGlyphs">0.0</text>
<text x="132.10" y="260.80" font-size="14" text-anchor="start" textLength="38.3" lengthAdjust="spacingAndGlyphs">Months</text>
<text x="172.20" y="260.80" font-size="14" text-anchor="start" textLength="24.4" lengthAdjust="spacingAndGlyphs">from</text>
<text x="199.20" y="260.80" font-size="14" text-anchor="start" textLength="44.0" lengthAdjust="spacingAndGlyphs">ibrutinib</text>
<text x="245.50" y="260.80" font-size="14" text-anchor="start" textLength="22.3" lengthAdjust="spacingAndGlyphs">start</text>
<text transform="translate(21.1,219.40) rotate(-90)" x="0" y="0" font-size="14" textLength="80.00" lengthAdjust="spacingAndGlyphs">Progression-free</text>
<text transform="translate(21.1,136.20) rotate(-90)" x="0" y="0" font-size="14" textLength="37.40" lengthAdjust="spacingAndGlyphs">survival</text>
<text transform="translate(21.1,94.60) rotate(-90)" x="0" y="0" font-size="14" textLength="54.60" lengthAdjust="spacingAndGlyphs">probability</text>
<text x="178.50" y="272.70" font-size="9" text-anchor="start" textLength="62.6" lengthAdjust="spacingAndGlyphs">Patients-at-risk</text>
<text x="47.60" y="284.70" font-size="9.7" text-anchor="end">0-</text>
<text x="68.70" y="284.70" font-size="9.7" text-anchor="middle" textLength="10.23" lengthAdjust="spacingAndGlyphs">74</text>
<text x="94.88" y="284.70" font-size="9.7" text-anchor="middle" textLength="10.23" lengthAdjust="spacingAndGlyphs">64</text>
<text x="121.06" y="284.70" font-size="9.7" text-anchor="middle" textLength="10.23" lengthAdjust="spacingAndGlyphs">50</text>
<text x="147.24" y="284.70" font-size="9.7" text-anchor="middle" textLength="10.23" lengthAdjust="spacingAndGlyphs">43</text>
<text x="173.42" y="284.70" font-size="9.7" text-anchor="middle" textLength="10.23" lengthAdjust="spacingAndGlyphs">33</text>
<text x="199.60" y="284.70" font-size="9.7" text-anchor="middle" textLength="10.23" lengthAdjust="spacingAndGlyphs">27</text>
<text x="225.78" y="284.70" font-size="9.7" text-anchor="middle" textLength="10.23" lengthAdjust="spacingAndGlyphs">21</text>
<text x="251.96" y="284.70" font-size="9.7" text-anchor="middle" textLength="10.23" lengthAdjust="spacingAndGlyphs">12</text>
<text x="278.14" y="284.70" font-size="9.7" text-anchor="middle" textLength="5.12" lengthAdjust="spacingAndGlyphs">4</text>
<text x="304.32" y="284.70" font-size="9.7" text-anchor="middle" textLength="5.12" lengthAdjust="spacingAndGlyphs">0</text>
<text x="47.60" y="296.00" font-size="9.7" text-anchor="end">1-2-</text>
<text x="68.70" y="296.00" font-size="9.7" text-anchor="middle" textLength="15.35" lengthAdjust="spacingAndGlyphs">155</text>
<text x="94.88" y="296.00" font-size="9.7" text-anchor="middle" textLength="15.35" lengthAdjust="spacingAndGlyphs">132</text>
<text x="121.06" y="296.00" font-size="9.7" text-anchor="middle" textLength="15.35" lengthAdjust="spacingAndGlyphs">107</text>
<text x="147.24" y="296.00" font-size="9.7" text-anchor="middle" textLength="10.23" lengthAdjust="spacingAndGlyphs">77</text>
<text x="173.42" y="296.00" font-size="9.7" text-anchor="middle" textLength="10.23" lengthAdjust="spacingAndGlyphs">55</text>
<text x="199.60" y="296.00" font-size="9.7" text-anchor="middle" textLength="10.23" lengthAdjust="spacingAndGlyphs">42</text>
<text x="225.78" y="296.00" font-size="9.7" text-anchor="middle" textLength="10.23" lengthAdjust="spacingAndGlyphs">29</text>
<text x="251.96" y="296.00" font-size="9.7" text-anchor="middle" textLength="10.23" lengthAdjust="spacingAndGlyphs">12</text>
<text x="278.14" y="296.00" font-size="9.7" text-anchor="middle" textLength="5.12" lengthAdjust="spacingAndGlyphs">6</text>
<text x="304.32" y="296.00" font-size="9.7" text-anchor="middle" textLength="5.12" lengthAdjust="spacingAndGlyphs">1</text>
<text x="330.50" y="296.00" font-size="9.7" text-anchor="middle" textLength="5.12" lengthAdjust="spacingAndGlyphs">0</text>
<text x="47.60" y="307.30" font-size="9.7" text-anchor="end">3-4-</text>
<text x="68.70" y="307.30" font-size="9.7" text-anchor="middle" textLength="10.23" lengthAdjust="spacingAndGlyphs">90</text>
<text x="94.88" y="307.30" font-size="9.7" text-anchor="middle" textLength="10.23" lengthAdjust="spacingAndGlyphs">75</text>
<text x="121.06" y="307.30" font-size="9.7" text-anchor="middle" textLength="10.23" lengthAdjust="spacingAndGlyphs">65</text>
<text x="147.24" y="307.30" font-size="9.7" text-anchor="middle" textLength="10.23" lengthAdjust="spacingAndGlyphs">55</text>
<text x="173.42" y="307.30" font-size="9.7" text-anchor="middle" textLength="10.23" lengthAdjust="spacingAndGlyphs">39</text>
<text x="199.60" y="307.30" font-size="9.7" text-anchor="middle" textLength="10.23" lengthAdjust="spacingAndGlyphs">32</text>
<text x="225.78" y="307.30" font-size="9.7" text-anchor="middle" textLength="10.23" lengthAdjust="spacingAndGlyphs">21</text>
<text x="251.96" y="307.30" font-size="9.7" text-anchor="middle" textLength="9.55" lengthAdjust="spacingAndGlyphs">11</text>
<text x="278.14" y="307.30" font-size="9.7" text-anchor="middle" textLength="5.12" lengthAdjust="spacingAndGlyphs">4</text>
<text x="304.32" y="307.30" font-size="9.7" text-anchor="middle" textLength="5.12" lengthAdjust="spacingAndGlyphs">0</text>
<text x="47.60" y="318.60" font-size="9.7" text-anchor="end">5-9-</text>
<text x="68.70" y="318.60" font-size="9.7" text-anchor="middle" textLength="10.23" lengthAdjust="spacingAndGlyphs">89</text>
<text x="94.88" y="318.60" font-size="9.7" text-anchor="middle" textLength="10.23" lengthAdjust="spacingAndGlyphs">73</text>
<text x="121.06" y="318.60" font-size="9.7" text-anchor="middle" textLength="10.23" lengthAdjust="spacingAndGlyphs">60</text>
<text x="147.24" y="318.60" font-size="9.7" text-anchor="middle" textLength="10.23" lengthAdjust="spacingAndGlyphs">48</text>
<text x="173.42" y="318.60" font-size="9.7" text-anchor="middle" textLength="10.23" lengthAdjust="spacingAndGlyphs">31</text>
<text x="199.60" y="318.60" font-size="9.7" text-anchor="middle" textLength="10.23" lengthAdjust="spacingAndGlyphs">23</text>
<text x="225.78" y="318.60" font-size="9.7" text-anchor="middle" textLength="10.23" lengthAdjust="spacingAndGlyphs">16</text>
<text x="251.96" y="318.60" font-size="9.7" text-anchor="middle" textLength="5.12" lengthAdjust="spacingAndGlyphs">6</text>
<text x="278.14" y="318.60" font-size="9.7" text-anchor="middle" textLength="5.12" lengthAdjust="spacingAndGlyphs">3</text>
<text x="304.32" y="318.60" font-size="9.7" text-anchor="middle" textLength="5.12" lengthAdjust="spacingAndGlyphs">0</text>
<text x="47.60" y="329.90" font-size="9.7" text-anchor="end">10-14-</text>
<text x="68.70" y="329.90" font-size="9.7" text-anchor="middle" textLength="10.23" lengthAdjust="spacingAndGlyphs">29</text>
<text x="94.88" y="329.90" font-size="9.7" text-anchor="middle" textLength="10.23" lengthAdjust="spacingAndGlyphs">23</text>
<text x="121.06" y="329.90" font-size="9.7" text-anchor="middle" textLength="10.23" lengthAdjust="spacingAndGlyphs">14</text>
<text x="147.24" y="329.90" font-size="9.7" text-anchor="middle" textLength="10.23" lengthAdjust="spacingAndGlyphs">10</text>
<text x="173.42" y="329.90" font-size="9.7" text-anchor="middle" textLength="5.12" lengthAdjust="spacingAndGlyphs">8</text>
<text x="199.60" y="329.90" font-size="9.7" text-anchor="middle" textLength="5.12" lengthAdjust="spacingAndGlyphs">7</text>
<text x="225.78" y="329.90" font-size="9.7" text-anchor="middle" textLength="5.12" lengthAdjust="spacingAndGlyphs">5</text>
<text x="251.96" y="329.90" font-size="9.7" text-anchor="middle" textLength="5.12" lengthAdjust="spacingAndGlyphs">2</text>
<text x="278.14" y="329.90" font-size="9.7" text-anchor="middle" textLength="5.12" lengthAdjust="spacingAndGlyphs">1</text>
<text x="304.32" y="329.90" font-size="9.7" text-anchor="middle" textLength="5.12" lengthAdjust="spacingAndGlyphs">0</text>
<text x="47.60" y="341.20" font-size="9.7" text-anchor="end" textLength="31.2" lengthAdjust="spacingAndGlyphs">&gt; = 15-</text>
<text x="68.70" y="341.20" font-size="9.7" text-anchor="middle" textLength="10.23" lengthAdjust="spacingAndGlyphs">19</text>
<text x="94.88" y="341.20" font-size="9.7" text-anchor="middle" textLength="9.55" lengthAdjust="spacingAndGlyphs">11</text>
<text x="121.06" y="341.20" font-size="9.7" text-anchor="middle" textLength="5.12" lengthAdjust="spacingAndGlyphs">9</text>
<text x="147.24" y="341.20" font-size="9.7" text-anchor="middle" textLength="5.12" lengthAdjust="spacingAndGlyphs">7</text>
<text x="173.42" y="341.20" font-size="9.7" text-anchor="middle" textLength="5.12" lengthAdjust="spacingAndGlyphs">7</text>
<text x="199.60" y="341.20" font-size="9.7" text-anchor="middle" textLength="5.12" lengthAdjust="spacingAndGlyphs">5</text>
<text x="225.78" y="341.20" font-size="9.7" text-anchor="middle" textLength="5.12" lengthAdjust="spacingAndGlyphs">5</text>
<text x="251.96" y="341.20" font-size="9.7" text-anchor="middle" textLength="5.12" lengthAdjust="spacingAndGlyphs">4</text>
<text x="278.14" y="341.20" font-size="9.7" text-anchor="middle" textLength="5.12" lengthAdjust="spacingAndGlyphs">1</text>
<text x="304.32" y="341.20" font-size="9.7" text-anchor="middle" textLength="5.12" lengthAdjust="spacingAndGlyphs">1</text>
<text x="330.50" y="341.20" font-size="9.7" text-anchor="middle" textLength="5.12" lengthAdjust="spacingAndGlyphs">0</text>
<text x="387.00" y="20.20" font-size="9.4" text-anchor="middle" font-weight="bold" style="fill:#000" textLength="54.2" lengthAdjust="spacingAndGlyphs">Cytogenetic</text>
<text x="386.90" y="31.40" font-size="9.4" text-anchor="middle" font-weight="bold" style="fill:#000" textLength="60.2" lengthAdjust="spacingAndGlyphs">abnormalities</text>
<text x="439.70" y="20.20" font-size="9.4" text-anchor="middle" font-weight="bold" style="fill:#000" textLength="33.6" lengthAdjust="spacingAndGlyphs">Events/</text>
<text x="439.50" y="31.40" font-size="9.4" text-anchor="middle" font-weight="bold" style="fill:#000" textLength="21.7" lengthAdjust="spacingAndGlyphs">Total</text>
<text x="485.60" y="20.20" font-size="9.4" text-anchor="middle" font-weight="bold" style="fill:#000" textLength="32.1" lengthAdjust="spacingAndGlyphs">Median</text>
<text x="485.60" y="31.40" font-size="9.4" text-anchor="middle" font-weight="bold" style="fill:#000" textLength="37.9" lengthAdjust="spacingAndGlyphs">(95% CI)</text>
<line x1="353.0" y1="45.20" x2="365.3" y2="45.20" stroke="#c30008" stroke-width="2"/>
<text x="388.60" y="48.60" font-size="9.6" text-anchor="middle">0</text>
<text x="439.40" y="48.60" font-size="9.6" text-anchor="middle">20/74</text>
<text x="485.60" y="48.60" font-size="9.6" text-anchor="middle" textLength="48.89" lengthAdjust="spacingAndGlyphs">NR (79-NR)</text>
<line x1="352.3" y1="56.70" x2="366.0" y2="56.70" stroke="#c30008" stroke-width="2" stroke-dasharray="3.9 2.4"/>
<text x="388.60" y="60.10" font-size="9.6" text-anchor="middle">1–2</text>
<text x="439.40" y="60.10" font-size="9.6" text-anchor="middle">60/155</text>
<text x="485.60" y="60.10" font-size="9.6" text-anchor="middle" textLength="44.8" lengthAdjust="spacingAndGlyphs">67 (57–82)</text>
<line x1="352.3" y1="68.20" x2="366.0" y2="68.20" stroke="#c30008" stroke-width="2" stroke-dasharray="1 1.08"/>
<text x="388.60" y="71.60" font-size="9.6" text-anchor="middle">3–4</text>
<text x="439.40" y="71.60" font-size="9.6" text-anchor="middle">50/90</text>
<text x="485.60" y="71.60" font-size="9.6" text-anchor="middle" textLength="44.8" lengthAdjust="spacingAndGlyphs">60 (47–73)</text>
<line x1="353.0" y1="79.70" x2="365.3" y2="79.70" stroke="#0020a0" stroke-width="2"/>
<text x="388.60" y="83.10" font-size="9.6" text-anchor="middle">5–9</text>
<text x="439.40" y="83.10" font-size="9.6" text-anchor="middle">56/89</text>
<text x="485.60" y="83.10" font-size="9.6" text-anchor="middle" textLength="44.8" lengthAdjust="spacingAndGlyphs">45 (36–61)</text>
<line x1="352.3" y1="91.20" x2="366.0" y2="91.20" stroke="#0020a0" stroke-width="2" stroke-dasharray="3.9 2.4"/>
<text x="388.60" y="94.60" font-size="9.6" text-anchor="middle">10–14</text>
<text x="439.40" y="94.60" font-size="9.6" text-anchor="middle">19/29</text>
<text x="485.60" y="94.60" font-size="9.6" text-anchor="middle" textLength="44.8" lengthAdjust="spacingAndGlyphs">32 (18–70)</text>
<line x1="352.3" y1="102.70" x2="366.0" y2="102.70" stroke="#0020a0" stroke-width="2" stroke-dasharray="1 1.08"/>
<text x="388.60" y="106.10" font-size="9.6" text-anchor="middle">&gt; = 15</text>
<text x="439.40" y="106.10" font-size="9.6" text-anchor="middle">16/19</text>
<text x="485.60" y="106.10" font-size="9.6" text-anchor="middle" textLength="39.65" lengthAdjust="spacingAndGlyphs">19 (6–58)</text>
<text x="362.3" y="121.00" font-size="9.5" textLength="142.3" lengthAdjust="spacingAndGlyphs">Logrank <tspan font-style="italic">P</tspan>-value; &lt;.0001 + censor</text>
<g transform="translate(-0.5,0)">
<rect x="59.2" y="377.20" width="281.1" height="212.3" fill="none" stroke="#000" stroke-width="1.7"/>
<line x1="54.0" y1="382.10" x2="59.2" y2="382.10" stroke="#000" stroke-width="1.5"/>
<line x1="54.0" y1="402.34" x2="59.2" y2="402.34" stroke="#000" stroke-width="1.5"/>
<line x1="54.0" y1="422.58" x2="59.2" y2="422.58" stroke="#000" stroke-width="1.5"/>
<line x1="54.0" y1="442.82" x2="59.2" y2="442.82" stroke="#000" stroke-width="1.5"/>
<line x1="54.0" y1="463.06" x2="59.2" y2="463.06" stroke="#000" stroke-width="1.5"/>
<line x1="54.0" y1="483.30" x2="59.2" y2="483.30" stroke="#000" stroke-width="1.5"/>
<line x1="54.0" y1="503.54" x2="59.2" y2="503.54" stroke="#000" stroke-width="1.5"/>
<line x1="54.0" y1="523.78" x2="59.2" y2="523.78" stroke="#000" stroke-width="1.5"/>
<line x1="54.0" y1="544.02" x2="59.2" y2="544.02" stroke="#000" stroke-width="1.5"/>
<line x1="54.0" y1="564.26" x2="59.2" y2="564.26" stroke="#000" stroke-width="1.5"/>
<line x1="54.0" y1="584.50" x2="59.2" y2="584.50" stroke="#000" stroke-width="1.5"/>
<line x1="68.70" y1="589.50" x2="68.70" y2="594.70" stroke="#000" stroke-width="1.5"/>
<text x="68.70" y="607.50" font-size="12.0" text-anchor="middle" textLength="6.4" lengthAdjust="spacingAndGlyphs">0</text>
<line x1="94.88" y1="589.50" x2="94.88" y2="594.70" stroke="#000" stroke-width="1.5"/>
<text x="94.88" y="607.50" font-size="12.0" text-anchor="middle" textLength="12.79" lengthAdjust="spacingAndGlyphs">12</text>
<line x1="121.06" y1="589.50" x2="121.06" y2="594.70" stroke="#000" stroke-width="1.5"/>
<text x="121.06" y="607.50" font-size="12.0" text-anchor="middle" textLength="12.79" lengthAdjust="spacingAndGlyphs">24</text>
<line x1="147.24" y1="589.50" x2="147.24" y2="594.70" stroke="#000" stroke-width="1.5"/>
<text x="147.24" y="607.50" font-size="12.0" text-anchor="middle" textLength="12.79" lengthAdjust="spacingAndGlyphs">36</text>
<line x1="173.42" y1="589.50" x2="173.42" y2="594.70" stroke="#000" stroke-width="1.5"/>
<text x="173.42" y="607.50" font-size="12.0" text-anchor="middle" textLength="12.79" lengthAdjust="spacingAndGlyphs">48</text>
<line x1="199.60" y1="589.50" x2="199.60" y2="594.70" stroke="#000" stroke-width="1.5"/>
<text x="199.60" y="607.50" font-size="12.0" text-anchor="middle" textLength="12.79" lengthAdjust="spacingAndGlyphs">60</text>
<line x1="225.78" y1="589.50" x2="225.78" y2="594.70" stroke="#000" stroke-width="1.5"/>
<text x="225.78" y="607.50" font-size="12.0" text-anchor="middle" textLength="12.79" lengthAdjust="spacingAndGlyphs">72</text>
<line x1="251.96" y1="589.50" x2="251.96" y2="594.70" stroke="#000" stroke-width="1.5"/>
<text x="251.96" y="607.50" font-size="12.0" text-anchor="middle" textLength="12.79" lengthAdjust="spacingAndGlyphs">84</text>
<line x1="278.14" y1="589.50" x2="278.14" y2="594.70" stroke="#000" stroke-width="1.5"/>
<text x="278.14" y="607.50" font-size="12.0" text-anchor="middle" textLength="12.79" lengthAdjust="spacingAndGlyphs">96</text>
<line x1="304.32" y1="589.50" x2="304.32" y2="594.70" stroke="#000" stroke-width="1.5"/>
<text x="304.32" y="607.50" font-size="12.0" text-anchor="middle" textLength="19.19" lengthAdjust="spacingAndGlyphs">108</text>
<line x1="330.50" y1="589.50" x2="330.50" y2="594.70" stroke="#000" stroke-width="1.5"/>
<text x="330.50" y="607.50" font-size="12.0" text-anchor="middle" textLength="19.19" lengthAdjust="spacingAndGlyphs">120</text>
</g>
<path d="M68.75,381.50 H70.67 V383.33 H72.58 V385.17 H74.50 V387.00 H77.00 V388.88 H79.50 V390.75 H82.00 V391.58 H84.50 V392.42 H87.00 V393.25 H88.88 V395.12 H90.75 V397.00 H92.00 V399.50 H93.25 V402.00 H95.12 V403.88 H97.00 V405.75 H99.50 V406.68 H102.00 V407.60 H104.50 V409.50 H107.00 V409.75 H109.50 V410.00 H112.00 V410.38 H114.50 V410.75 H117.00 V411.07 H119.50 V411.40 H121.38 V412.00 H123.25 V412.60 H125.12 V413.55 H127.00 V414.50 H130.00 V415.70 H132.70 V416.70 H135.40 V417.70 L159.60,417.70 H161.80 V417.85 H164.00 V418.00 H166.00 V419.00 H168.00 V420.00 H170.00 V421.75 H172.00 V423.50 H174.00 V424.85 H176.00 V426.20 H178.10 V427.25 H180.20 V428.30 L193.00,428.30 L193.00,432.30 H195.28 V432.44 H197.56 V432.58 H199.84 V432.72 H202.12 V432.86 H204.40 V433.00 L227.30,433.00 L227.30,436.30 L242.50,436.30 L242.50,443.25 H245.00 V445.12 H247.50 V447.00 H248.75 V449.10 H250.00 V451.20 L315.40,451.20" fill="none" stroke="#c30008" stroke-width="2.0" stroke-dasharray="1 1.08"/>
<path d="M80.00,388.32V393.52M78.10,390.92H81.90" stroke="#c30008" stroke-width="1.6" fill="none"/>
<path d="M90.00,393.65V398.85M88.10,396.25H91.90" stroke="#c30008" stroke-width="1.6" fill="none"/>
<path d="M99.00,403.89V409.09M97.10,406.49H100.90" stroke="#c30008" stroke-width="1.6" fill="none"/>
<path d="M107.00,407.15V412.35M105.10,409.75H108.90" stroke="#c30008" stroke-width="1.6" fill="none"/>
<path d="M113.00,407.92V413.12M111.10,410.52H114.90" stroke="#c30008" stroke-width="1.6" fill="none"/>
<path d="M120.00,408.96V414.16M118.10,411.56H121.90" stroke="#c30008" stroke-width="1.6" fill="none"/>
<path d="M128.00,412.30V417.50M126.10,414.90H129.90" stroke="#c30008" stroke-width="1.6" fill="none"/>
<path d="M144.00,415.10V420.30M142.10,417.70H145.90" stroke="#c30008" stroke-width="1.6" fill="none"/>
<path d="M151.00,415.10V420.30M149.10,417.70H152.90" stroke="#c30008" stroke-width="1.6" fill="none"/>
<path d="M159.00,415.10V420.30M157.10,417.70H160.90" stroke="#c30008" stroke-width="1.6" fill="none"/>
<path d="M200.00,430.13V435.33M198.10,432.73H201.90" stroke="#c30008" stroke-width="1.6" fill="none"/>
<path d="M206.00,430.40V435.60M204.10,433.00H207.90" stroke="#c30008" stroke-width="1.6" fill="none"/>
<path d="M215.00,430.40V435.60M213.10,433.00H216.90" stroke="#c30008" stroke-width="1.6" fill="none"/>
<path d="M222.00,430.40V435.60M220.10,433.00H223.90" stroke="#c30008" stroke-width="1.6" fill="none"/>
<path d="M232.00,433.70V438.90M230.10,436.30H233.90" stroke="#c30008" stroke-width="1.6" fill="none"/>
<path d="M251.50,448.60V453.80M249.60,451.20H253.40" stroke="#c30008" stroke-width="1.6" fill="none"/>
<path d="M255.40,448.60V453.80M253.50,451.20H257.30" stroke="#c30008" stroke-width="1.6" fill="none"/>
<path d="M259.20,448.60V453.80M257.30,451.20H261.10" stroke="#c30008" stroke-width="1.6" fill="none"/>
<path d="M263.00,448.60V453.80M261.10,451.20H264.90" stroke="#c30008" stroke-width="1.6" fill="none"/>
<path d="M267.00,448.60V453.80M265.10,451.20H268.90" stroke="#c30008" stroke-width="1.6" fill="none"/>
<path d="M270.80,448.60V453.80M268.90,451.20H272.70" stroke="#c30008" stroke-width="1.6" fill="none"/>
<path d="M277.00,448.60V453.80M275.10,451.20H278.90" stroke="#c30008" stroke-width="1.6" fill="none"/>
<path d="M284.60,448.60V453.80M282.70,451.20H286.50" stroke="#c30008" stroke-width="1.6" fill="none"/>
<path d="M289.20,448.60V453.80M287.30,451.20H291.10" stroke="#c30008" stroke-width="1.6" fill="none"/>
<path d="M292.30,448.60V453.80M290.40,451.20H294.20" stroke="#c30008" stroke-width="1.6" fill="none"/>
<path d="M294.60,448.60V453.80M292.70,451.20H296.50" stroke="#c30008" stroke-width="1.6" fill="none"/>
<path d="M297.00,448.60V453.80M295.10,451.20H298.90" stroke="#c30008" stroke-width="1.6" fill="none"/>
<path d="M305.40,448.60V453.80M303.50,451.20H307.30" stroke="#c30008" stroke-width="1.6" fill="none"/>
<path d="M314.60,448.60V453.80M312.70,451.20H316.50" stroke="#c30008" stroke-width="1.6" fill="none"/>
<path d="M68.25,382.00 H69.50 V384.50 H70.75 V387.00 H72.00 V389.50 H72.83 V391.58 H73.67 V393.67 H74.50 V395.75 H76.40 V396.00 L76.40,413.60 L92.60,413.60 L92.60,425.00 L100.50,425.00 H101.10 V425.60 L101.10,436.90 L117.40,436.90 L117.40,447.50 L122.40,447.50 L122.40,458.75 L133.00,458.75 L133.00,470.00 H135.00 V471.25 H136.88 V472.50 H138.75 V473.75 H141.25 V475.00 L141.25,493.00 L195.50,493.00 L195.50,505.50 L256.00,505.50 L256.00,525.00 L313.00,525.00" fill="none" stroke="#0020a0" stroke-width="2.0" stroke-dasharray="1 1.08"/>
<path d="M71.00,384.90V390.10M69.10,387.50H72.90" stroke="#0020a0" stroke-width="1.6" fill="none"/>
<path d="M84.00,411.00V416.20M82.10,413.60H85.90" stroke="#0020a0" stroke-width="1.6" fill="none"/>
<path d="M95.00,422.40V427.60M93.10,425.00H96.90" stroke="#0020a0" stroke-width="1.6" fill="none"/>
<path d="M112.00,434.30V439.50M110.10,436.90H113.90" stroke="#0020a0" stroke-width="1.6" fill="none"/>
<path d="M131.00,456.15V461.35M129.10,458.75H132.90" stroke="#0020a0" stroke-width="1.6" fill="none"/>
<path d="M137.00,469.98V475.18M135.10,472.58H138.90" stroke="#0020a0" stroke-width="1.6" fill="none"/>
<path d="M206.25,502.90V508.10M204.35,505.50H208.15" stroke="#0020a0" stroke-width="1.6" fill="none"/>
<path d="M230.00,502.90V508.10M228.10,505.50H231.90" stroke="#0020a0" stroke-width="1.6" fill="none"/>
<path d="M264.60,522.40V527.60M262.70,525.00H266.50" stroke="#0020a0" stroke-width="1.6" fill="none"/>
<path d="M296.60,522.40V527.60M294.70,525.00H298.50" stroke="#0020a0" stroke-width="1.6" fill="none"/>
<path d="M311.30,522.40V527.60M309.40,525.00H313.20" stroke="#0020a0" stroke-width="1.6" fill="none"/>
<path d="M68.25,382.00 H69.12 V384.00 H70.00 V386.00 H70.87 V388.00 H71.73 V390.00 H72.60 V392.00 H73.80 V393.88 H75.00 V395.75 H77.25 V396.00 H79.50 V396.25 H81.75 V396.50 H84.00 V396.75 H86.25 V397.00 H87.00 V400.00 H88.25 V402.33 H89.50 V404.67 H90.75 V407.00 H92.00 V409.08 H93.25 V411.17 H94.50 V413.25 H95.12 V415.43 H95.75 V417.60 H98.25 V418.25 H100.50 V419.00 H101.25 V421.75 H102.00 V424.50 H103.75 V424.75 H105.50 V425.00 H106.12 V426.88 H106.75 V428.75 H107.08 V430.62 H107.40 V432.50 H108.02 V435.00 H108.63 V437.50 H109.25 V440.00 H110.30 V442.50 H111.35 V445.00 H112.40 V447.50 L125.50,447.50 H125.70 V449.80 H125.90 V452.10 H126.10 V454.40 H126.14 V456.42 H126.17 V458.45 H126.21 V460.48 H126.25 V462.50 H126.56 V464.50 H126.88 V466.50 H127.19 V468.50 H127.50 V470.50 L147.50,470.50 L147.50,479.25 L168.00,479.25 L168.00,487.50 L207.50,487.50 L207.50,500.00 L230.00,500.00 H231.88 V500.62 H233.75 V501.25 H235.00 V503.12 H236.25 V505.00 L236.25,517.50 L249.80,517.50 L249.80,534.30 L269.00,534.30 L269.00,559.20 L299.20,559.20" fill="none" stroke="#0020a0" stroke-width="2.2" stroke-dasharray="3.9 2.4"/>
<path d="M73.00,390.02V395.23M71.10,392.62H74.90" stroke="#0020a0" stroke-width="1.6" fill="none"/>
<path d="M85.00,394.26V399.46M83.10,396.86H86.90" stroke="#0020a0" stroke-width="1.6" fill="none"/>
<path d="M95.00,412.39V417.59M93.10,414.99H96.90" stroke="#0020a0" stroke-width="1.6" fill="none"/>
<path d="M99.00,415.90V421.10M97.10,418.50H100.90" stroke="#0020a0" stroke-width="1.6" fill="none"/>
<path d="M104.00,422.19V427.39M102.10,424.79H105.90" stroke="#0020a0" stroke-width="1.6" fill="none"/>
<path d="M118.00,444.90V450.10M116.10,447.50H119.90" stroke="#0020a0" stroke-width="1.6" fill="none"/>
<path d="M141.25,467.90V473.10M139.35,470.50H143.15" stroke="#0020a0" stroke-width="1.6" fill="none"/>
<path d="M170.00,484.90V490.10M168.10,487.50H171.90" stroke="#0020a0" stroke-width="1.6" fill="none"/>
<path d="M180.00,484.90V490.10M178.10,487.50H181.90" stroke="#0020a0" stroke-width="1.6" fill="none"/>
<path d="M187.50,484.90V490.10M185.60,487.50H189.40" stroke="#0020a0" stroke-width="1.6" fill="none"/>
<path d="M219.00,497.40V502.60M217.10,500.00H220.90" stroke="#0020a0" stroke-width="1.6" fill="none"/>
<path d="M225.00,497.40V502.60M223.10,500.00H226.90" stroke="#0020a0" stroke-width="1.6" fill="none"/>
<path d="M256.00,531.70V536.90M254.10,534.30H257.90" stroke="#0020a0" stroke-width="1.6" fill="none"/>
<path d="M298.00,556.60V561.80M296.10,559.20H299.90" stroke="#0020a0" stroke-width="1.6" fill="none"/>
<path d="M68.25,382.00 H68.88 V383.88 H69.50 V385.75 H72.00 V387.00 H74.50 V388.25 H77.00 V390.75 H78.25 V392.62 H79.50 V394.50 H80.12 V396.38 H80.75 V398.25 H82.00 V400.75 H83.90 V402.60 H85.75 V403.90 H88.25 V405.75 H90.75 V408.25 H93.25 V409.50 H95.12 V410.05 H97.00 V410.60 H99.25 V412.50 H100.50 V415.00 H103.00 V416.90 L109.25,416.90 H110.50 V420.00 H111.75 V421.90 L121.75,421.90 H123.00 V423.75 H123.62 V425.62 H124.25 V427.50 H124.88 V429.38 H125.50 V431.25 H126.75 V433.75 H129.25 V436.25 H131.10 V439.40 L139.25,439.40 L139.25,442.25 L152.50,442.25 H153.75 V443.75 H154.58 V446.25 H155.42 V448.75 H156.25 V451.25 L156.25,453.60 L170.00,453.60 H171.25 V455.55 H172.50 V457.50 H172.92 V459.75 H173.33 V462.00 H173.75 V464.25 L182.50,464.25 H185.00 V466.25 L198.75,466.25 H199.38 V468.12 H200.00 V470.00 H201.88 V472.25 H203.75 V474.50 L219.00,474.50 L219.00,485.00 H220.75 V486.25 H222.50 V487.50 H223.75 V489.38 H225.00 V491.25 L225.00,493.00 L231.25,493.00 H231.88 V495.25 H232.50 V497.50 H234.38 V498.75 H236.25 V500.00 H236.88 V501.80 H237.50 V503.60 L256.00,503.60 L256.00,511.60 L271.50,511.60 L271.50,522.00 L275.90,522.00 L275.90,534.10 L297.20,534.10" fill="none" stroke="#0020a0" stroke-width="2.2"/>
<path d="M71.00,383.90V389.10M69.10,386.50H72.90" stroke="#0020a0" stroke-width="1.6" fill="none"/>
<path d="M75.00,386.15V391.35M73.10,388.75H76.90" stroke="#0020a0" stroke-width="1.6" fill="none"/>
<path d="M80.00,393.40V398.60M78.10,396.00H81.90" stroke="#0020a0" stroke-width="1.6" fill="none"/>
<path d="M86.00,401.48V406.69M84.10,404.08H87.90" stroke="#0020a0" stroke-width="1.6" fill="none"/>
<path d="M92.00,406.27V411.48M90.10,408.88H93.90" stroke="#0020a0" stroke-width="1.6" fill="none"/>
<path d="M97.00,408.00V413.20M95.10,410.60H98.90" stroke="#0020a0" stroke-width="1.6" fill="none"/>
<path d="M104.25,414.30V419.50M102.35,416.90H106.15" stroke="#0020a0" stroke-width="1.6" fill="none"/>
<path d="M115.50,419.30V424.50M113.60,421.90H117.40" stroke="#0020a0" stroke-width="1.6" fill="none"/>
<path d="M126.00,429.65V434.85M124.10,432.25H127.90" stroke="#0020a0" stroke-width="1.6" fill="none"/>
<path d="M135.00,436.80V442.00M133.10,439.40H136.90" stroke="#0020a0" stroke-width="1.6" fill="none"/>
<path d="M152.50,439.65V444.85M150.60,442.25H154.40" stroke="#0020a0" stroke-width="1.6" fill="none"/>
<path d="M166.25,451.00V456.20M164.35,453.60H168.15" stroke="#0020a0" stroke-width="1.6" fill="none"/>
<path d="M171.25,452.95V458.15M169.35,455.55H173.15" stroke="#0020a0" stroke-width="1.6" fill="none"/>
<path d="M182.50,461.65V466.85M180.60,464.25H184.40" stroke="#0020a0" stroke-width="1.6" fill="none"/>
<path d="M186.00,463.65V468.85M184.10,466.25H187.90" stroke="#0020a0" stroke-width="1.6" fill="none"/>
<path d="M197.50,463.65V468.85M195.60,466.25H199.40" stroke="#0020a0" stroke-width="1.6" fill="none"/>
<path d="M211.25,471.90V477.10M209.35,474.50H213.15" stroke="#0020a0" stroke-width="1.6" fill="none"/>
<path d="M213.75,471.90V477.10M211.85,474.50H215.65" stroke="#0020a0" stroke-width="1.6" fill="none"/>
<path d="M215.00,471.90V477.10M213.10,474.50H216.90" stroke="#0020a0" stroke-width="1.6" fill="none"/>
<path d="M227.50,490.40V495.60M225.60,493.00H229.40" stroke="#0020a0" stroke-width="1.6" fill="none"/>
<path d="M230.00,490.40V495.60M228.10,493.00H231.90" stroke="#0020a0" stroke-width="1.6" fill="none"/>
<path d="M240.00,501.00V506.20M238.10,503.60H241.90" stroke="#0020a0" stroke-width="1.6" fill="none"/>
<path d="M243.75,501.00V506.20M241.85,503.60H245.65" stroke="#0020a0" stroke-width="1.6" fill="none"/>
<path d="M246.25,501.00V506.20M244.35,503.60H248.15" stroke="#0020a0" stroke-width="1.6" fill="none"/>
<path d="M248.75,501.00V506.20M246.85,503.60H250.65" stroke="#0020a0" stroke-width="1.6" fill="none"/>
<path d="M251.25,501.00V506.20M249.35,503.60H253.15" stroke="#0020a0" stroke-width="1.6" fill="none"/>
<path d="M253.75,501.00V506.20M251.85,503.60H255.65" stroke="#0020a0" stroke-width="1.6" fill="none"/>
<path d="M262.90,509.00V514.20M261.00,511.60H264.80" stroke="#0020a0" stroke-width="1.6" fill="none"/>
<path d="M281.00,531.50V536.70M279.10,534.10H282.90" stroke="#0020a0" stroke-width="1.6" fill="none"/>
<path d="M296.00,531.50V536.70M294.10,534.10H297.90" stroke="#0020a0" stroke-width="1.6" fill="none"/>
<path d="M68.75,381.50 H70.67 V382.33 H72.58 V383.17 H74.50 V384.00 H77.00 V385.38 H79.50 V386.75 H82.00 V387.88 H84.50 V389.00 H87.00 V390.00 H89.50 V391.00 H92.25 V392.25 H95.00 V393.50 H97.23 V394.40 H99.47 V395.30 H101.70 V396.20 H103.97 V396.47 H106.23 V396.73 H108.50 V397.00 H110.67 V397.67 H112.83 V398.33 H115.00 V399.00 H117.33 V399.58 H119.67 V400.17 H122.00 V400.75 H124.00 V402.00 H126.00 V403.25 H128.00 V403.88 H130.00 V404.50 H132.00 V405.05 H134.00 V405.60 H136.70 V406.60 H139.40 V407.60 H142.10 V407.95 H144.80 V408.30 L157.00,408.30 H158.00 V410.70 H159.00 V413.10 H160.00 V415.50 H162.00 V416.50 H164.00 V417.50 H166.00 V418.50 H168.00 V419.50 H170.00 V421.50 H172.00 V423.50 H174.00 V424.85 H176.00 V426.20 H178.10 V427.25 H180.20 V428.30 L193.00,428.30 L193.00,432.30 L209.00,432.30 L209.00,443.00 L227.00,443.00 L227.00,445.75 L242.50,445.75 H245.00 V447.62 H247.50 V449.50 H250.00 V450.75 H252.50 V452.00 H254.25 V453.88 H256.00 V455.75 L273.75,455.75 L273.75,463.25 L280.00,463.25 L280.00,475.25 L315.40,475.25" fill="none" stroke="#c30008" stroke-width="2.2" stroke-dasharray="3.9 2.4"/>
<path d="M75.00,381.67V386.88M73.10,384.27H76.90" stroke="#c30008" stroke-width="1.6" fill="none"/>
<path d="M82.00,385.27V390.48M80.10,387.88H83.90" stroke="#c30008" stroke-width="1.6" fill="none"/>
<path d="M88.00,387.80V393.00M86.10,390.40H89.90" stroke="#c30008" stroke-width="1.6" fill="none"/>
<path d="M97.00,391.71V396.91M95.10,394.31H98.90" stroke="#c30008" stroke-width="1.6" fill="none"/>
<path d="M104.00,393.87V399.07M102.10,396.47H105.90" stroke="#c30008" stroke-width="1.6" fill="none"/>
<path d="M112.00,395.48V400.68M110.10,398.08H113.90" stroke="#c30008" stroke-width="1.6" fill="none"/>
<path d="M119.00,397.40V402.60M117.10,400.00H120.90" stroke="#c30008" stroke-width="1.6" fill="none"/>
<path d="M139.40,405.00V410.20M137.50,407.60H141.30" stroke="#c30008" stroke-width="1.6" fill="none"/>
<path d="M144.80,405.70V410.90M142.90,408.30H146.70" stroke="#c30008" stroke-width="1.6" fill="none"/>
<path d="M148.80,405.70V410.90M146.90,408.30H150.70" stroke="#c30008" stroke-width="1.6" fill="none"/>
<path d="M151.50,405.70V410.90M149.60,408.30H153.40" stroke="#c30008" stroke-width="1.6" fill="none"/>
<path d="M162.00,413.90V419.10M160.10,416.50H163.90" stroke="#c30008" stroke-width="1.6" fill="none"/>
<path d="M170.00,418.90V424.10M168.10,421.50H171.90" stroke="#c30008" stroke-width="1.6" fill="none"/>
<path d="M178.00,424.60V429.80M176.10,427.20H179.90" stroke="#c30008" stroke-width="1.6" fill="none"/>
<path d="M186.00,425.70V430.90M184.10,428.30H187.90" stroke="#c30008" stroke-width="1.6" fill="none"/>
<path d="M190.00,425.70V430.90M188.10,428.30H191.90" stroke="#c30008" stroke-width="1.6" fill="none"/>
<path d="M212.50,440.40V445.60M210.60,443.00H214.40" stroke="#c30008" stroke-width="1.6" fill="none"/>
<path d="M218.00,440.40V445.60M216.10,443.00H219.90" stroke="#c30008" stroke-width="1.6" fill="none"/>
<path d="M223.30,440.40V445.60M221.40,443.00H225.20" stroke="#c30008" stroke-width="1.6" fill="none"/>
<path d="M230.00,443.15V448.35M228.10,445.75H231.90" stroke="#c30008" stroke-width="1.6" fill="none"/>
<path d="M238.00,443.15V448.35M236.10,445.75H239.90" stroke="#c30008" stroke-width="1.6" fill="none"/>
<path d="M257.00,453.15V458.35M255.10,455.75H258.90" stroke="#c30008" stroke-width="1.6" fill="none"/>
<path d="M261.50,453.15V458.35M259.60,455.75H263.40" stroke="#c30008" stroke-width="1.6" fill="none"/>
<path d="M264.60,453.15V458.35M262.70,455.75H266.50" stroke="#c30008" stroke-width="1.6" fill="none"/>
<path d="M268.50,453.15V458.35M266.60,455.75H270.40" stroke="#c30008" stroke-width="1.6" fill="none"/>
<path d="M287.00,472.65V477.85M285.10,475.25H288.90" stroke="#c30008" stroke-width="1.6" fill="none"/>
<path d="M293.00,472.65V477.85M291.10,475.25H294.90" stroke="#c30008" stroke-width="1.6" fill="none"/>
<path d="M299.20,472.65V477.85M297.30,475.25H301.10" stroke="#c30008" stroke-width="1.6" fill="none"/>
<path d="M301.50,472.65V477.85M299.60,475.25H303.40" stroke="#c30008" stroke-width="1.6" fill="none"/>
<path d="M304.60,472.65V477.85M302.70,475.25H306.50" stroke="#c30008" stroke-width="1.6" fill="none"/>
<path d="M307.00,472.65V477.85M305.10,475.25H308.90" stroke="#c30008" stroke-width="1.6" fill="none"/>
<path d="M313.80,472.65V477.85M311.90,475.25H315.70" stroke="#c30008" stroke-width="1.6" fill="none"/>
<path d="M68.75,381.50 H70.67 V381.77 H72.58 V382.03 H74.50 V382.30 H77.00 V383.40 H79.50 V384.50 H82.00 V385.25 H84.50 V386.00 H87.00 V387.15 H89.50 V388.30 H92.25 V388.75 H95.00 V389.20 H97.23 V389.47 H99.47 V389.73 H101.70 V390.00 H103.97 V391.17 H106.23 V392.33 H108.50 V393.50 H110.50 V395.15 H112.50 V396.80 H114.53 V396.98 H116.55 V397.15 H118.57 V397.32 H120.60 V397.50 H121.30 V399.50 H122.00 V401.50 L122.00,402.80 L173.50,402.80 L173.50,408.00 L185.60,408.00 L185.60,412.90 L215.20,412.90 L215.20,418.20 L241.25,418.20 L241.25,428.25 L249.00,428.25 L249.00,437.50 L296.25,437.50" fill="none" stroke="#c30008" stroke-width="2.2"/>
<path d="M72.00,379.35V384.55M70.10,381.95H73.90" stroke="#c30008" stroke-width="1.6" fill="none"/>
<path d="M76.00,380.36V385.56M74.10,382.96H77.90" stroke="#c30008" stroke-width="1.6" fill="none"/>
<path d="M80.00,382.05V387.25M78.10,384.65H81.90" stroke="#c30008" stroke-width="1.6" fill="none"/>
<path d="M85.00,383.63V388.83M83.10,386.23H86.90" stroke="#c30008" stroke-width="1.6" fill="none"/>
<path d="M90.00,385.78V390.98M88.10,388.38H91.90" stroke="#c30008" stroke-width="1.6" fill="none"/>
<path d="M94.00,386.44V391.64M92.10,389.04H95.90" stroke="#c30008" stroke-width="1.6" fill="none"/>
<path d="M99.00,387.08V392.28M97.10,389.68H100.90" stroke="#c30008" stroke-width="1.6" fill="none"/>
<path d="M104.00,388.58V393.78M102.10,391.18H105.90" stroke="#c30008" stroke-width="1.6" fill="none"/>
<path d="M110.00,392.14V397.34M108.10,394.74H111.90" stroke="#c30008" stroke-width="1.6" fill="none"/>
<path d="M116.00,394.50V399.70M114.10,397.10H117.90" stroke="#c30008" stroke-width="1.6" fill="none"/>
<path d="M126.00,400.20V405.40M124.10,402.80H127.90" stroke="#c30008" stroke-width="1.6" fill="none"/>
<path d="M130.00,400.20V405.40M128.10,402.80H131.90" stroke="#c30008" stroke-width="1.6" fill="none"/>
<path d="M135.40,400.20V405.40M133.50,402.80H137.30" stroke="#c30008" stroke-width="1.6" fill="none"/>
<path d="M143.50,400.20V405.40M141.60,402.80H145.40" stroke="#c30008" stroke-width="1.6" fill="none"/>
<path d="M157.00,400.20V405.40M155.10,402.80H158.90" stroke="#c30008" stroke-width="1.6" fill="none"/>
<path d="M161.00,400.20V405.40M159.10,402.80H162.90" stroke="#c30008" stroke-width="1.6" fill="none"/>
<path d="M165.40,400.20V405.40M163.50,402.80H167.30" stroke="#c30008" stroke-width="1.6" fill="none"/>
<path d="M168.00,400.20V405.40M166.10,402.80H169.90" stroke="#c30008" stroke-width="1.6" fill="none"/>
<path d="M172.00,400.20V405.40M170.10,402.80H173.90" stroke="#c30008" stroke-width="1.6" fill="none"/>
<path d="M177.50,405.40V410.60M175.60,408.00H179.40" stroke="#c30008" stroke-width="1.6" fill="none"/>
<path d="M180.20,405.40V410.60M178.30,408.00H182.10" stroke="#c30008" stroke-width="1.6" fill="none"/>
<path d="M182.90,405.40V410.60M181.00,408.00H184.80" stroke="#c30008" stroke-width="1.6" fill="none"/>
<path d="M195.70,410.30V415.50M193.80,412.90H197.60" stroke="#c30008" stroke-width="1.6" fill="none"/>
<path d="M198.40,410.30V415.50M196.50,412.90H200.30" stroke="#c30008" stroke-width="1.6" fill="none"/>
<path d="M212.50,410.30V415.50M210.60,412.90H214.40" stroke="#c30008" stroke-width="1.6" fill="none"/>
<path d="M213.80,410.30V415.50M211.90,412.90H215.70" stroke="#c30008" stroke-width="1.6" fill="none"/>
<path d="M220.00,415.60V420.80M218.10,418.20H221.90" stroke="#c30008" stroke-width="1.6" fill="none"/>
<path d="M223.75,415.60V420.80M221.85,418.20H225.65" stroke="#c30008" stroke-width="1.6" fill="none"/>
<path d="M227.50,415.60V420.80M225.60,418.20H229.40" stroke="#c30008" stroke-width="1.6" fill="none"/>
<path d="M231.25,415.60V420.80M229.35,418.20H233.15" stroke="#c30008" stroke-width="1.6" fill="none"/>
<path d="M235.00,415.60V420.80M233.10,418.20H236.90" stroke="#c30008" stroke-width="1.6" fill="none"/>
<path d="M252.30,434.90V440.10M250.40,437.50H254.20" stroke="#c30008" stroke-width="1.6" fill="none"/>
<path d="M260.00,434.90V440.10M258.10,437.50H261.90" stroke="#c30008" stroke-width="1.6" fill="none"/>
<path d="M263.80,434.90V440.10M261.90,437.50H265.70" stroke="#c30008" stroke-width="1.6" fill="none"/>
<path d="M267.70,434.90V440.10M265.80,437.50H269.60" stroke="#c30008" stroke-width="1.6" fill="none"/>
<path d="M274.60,434.90V440.10M272.70,437.50H276.50" stroke="#c30008" stroke-width="1.6" fill="none"/>
<path d="M283.80,434.90V440.10M281.90,437.50H285.70" stroke="#c30008" stroke-width="1.6" fill="none"/>
<path d="M287.70,434.90V440.10M285.80,437.50H289.60" stroke="#c30008" stroke-width="1.6" fill="none"/>
<path d="M290.80,434.90V440.10M288.90,437.50H292.70" stroke="#c30008" stroke-width="1.6" fill="none"/>
<path d="M293.80,434.90V440.10M291.90,437.50H295.70" stroke="#c30008" stroke-width="1.6" fill="none"/>
<text x="49.80" y="386.30" font-size="12.0" text-anchor="end" textLength="15.98" lengthAdjust="spacingAndGlyphs">1.0</text>
<text x="49.80" y="406.54" font-size="12.0" text-anchor="end" textLength="15.98" lengthAdjust="spacingAndGlyphs">0.9</text>
<text x="49.80" y="426.78" font-size="12.0" text-anchor="end" textLength="15.98" lengthAdjust="spacingAndGlyphs">0.8</text>
<text x="49.80" y="447.02" font-size="12.0" text-anchor="end" textLength="15.98" lengthAdjust="spacingAndGlyphs">0.7</text>
<text x="49.80" y="467.26" font-size="12.0" text-anchor="end" textLength="15.98" lengthAdjust="spacingAndGlyphs">0.6</text>
<text x="49.80" y="487.50" font-size="12.0" text-anchor="end" textLength="15.98" lengthAdjust="spacingAndGlyphs">0.5</text>
<text x="49.80" y="507.74" font-size="12.0" text-anchor="end" textLength="15.98" lengthAdjust="spacingAndGlyphs">0.4</text>
<text x="49.80" y="527.98" font-size="12.0" text-anchor="end" textLength="15.98" lengthAdjust="spacingAndGlyphs">0.3</text>
<text x="49.80" y="548.22" font-size="12.0" text-anchor="end" textLength="15.98" lengthAdjust="spacingAndGlyphs">0.2</text>
<text x="49.80" y="568.46" font-size="12.0" text-anchor="end" textLength="15.98" lengthAdjust="spacingAndGlyphs">0.1</text>
<text x="49.80" y="588.70" font-size="12.0" text-anchor="end" textLength="15.98" lengthAdjust="spacingAndGlyphs">0.0</text>
<text x="132.10" y="627.80" font-size="14" text-anchor="start" textLength="38.3" lengthAdjust="spacingAndGlyphs">Months</text>
<text x="172.20" y="627.80" font-size="14" text-anchor="start" textLength="24.4" lengthAdjust="spacingAndGlyphs">from</text>
<text x="199.20" y="627.80" font-size="14" text-anchor="start" textLength="44.0" lengthAdjust="spacingAndGlyphs">ibrutinib</text>
<text x="245.50" y="627.80" font-size="14" text-anchor="start" textLength="22.3" lengthAdjust="spacingAndGlyphs">start</text>
<text transform="translate(21.1,549.20) rotate(-90)" x="0" y="0" font-size="14" textLength="32.80" lengthAdjust="spacingAndGlyphs">Overall</text>
<text transform="translate(21.1,513.00) rotate(-90)" x="0" y="0" font-size="14" textLength="39.20" lengthAdjust="spacingAndGlyphs">survival</text>
<text transform="translate(21.1,471.20) rotate(-90)" x="0" y="0" font-size="14" textLength="54.80" lengthAdjust="spacingAndGlyphs">probability</text>
<text x="167.70" y="639.70" font-size="9" text-anchor="start" textLength="62.6" lengthAdjust="spacingAndGlyphs">Patients-at-risk</text>
<text x="47.60" y="652.50" font-size="9.7" text-anchor="end">0-</text>
<text x="68.70" y="652.50" font-size="9.7" text-anchor="middle" textLength="10.23" lengthAdjust="spacingAndGlyphs">74</text>
<text x="94.88" y="652.50" font-size="9.7" text-anchor="middle" textLength="10.23" lengthAdjust="spacingAndGlyphs">67</text>
<text x="121.06" y="652.50" font-size="9.7" text-anchor="middle" textLength="10.23" lengthAdjust="spacingAndGlyphs">55</text>
<text x="147.24" y="652.50" font-size="9.7" text-anchor="middle" textLength="10.23" lengthAdjust="spacingAndGlyphs">48</text>
<text x="173.42" y="652.50" font-size="9.7" text-anchor="middle" textLength="10.23" lengthAdjust="spacingAndGlyphs">40</text>
<text x="199.60" y="652.50" font-size="9.7" text-anchor="middle" textLength="10.23" lengthAdjust="spacingAndGlyphs">33</text>
<text x="225.78" y="652.50" font-size="9.7" text-anchor="middle" textLength="10.23" lengthAdjust="spacingAndGlyphs">25</text>
<text x="251.96" y="652.50" font-size="9.7" text-anchor="middle" textLength="10.23" lengthAdjust="spacingAndGlyphs">14</text>
<text x="278.14" y="652.50" font-size="9.7" text-anchor="middle" textLength="5.12" lengthAdjust="spacingAndGlyphs">4</text>
<text x="304.32" y="652.50" font-size="9.7" text-anchor="middle" textLength="5.12" lengthAdjust="spacingAndGlyphs">0</text>
<text x="47.60" y="663.80" font-size="9.7" text-anchor="end">1-2-</text>
<text x="68.70" y="663.80" font-size="9.7" text-anchor="middle" textLength="15.35" lengthAdjust="spacingAndGlyphs">155</text>
<text x="94.88" y="663.80" font-size="9.7" text-anchor="middle" textLength="15.35" lengthAdjust="spacingAndGlyphs">132</text>
<text x="121.06" y="663.80" font-size="9.7" text-anchor="middle" textLength="14.67" lengthAdjust="spacingAndGlyphs">113</text>
<text x="147.24" y="663.80" font-size="9.7" text-anchor="middle" textLength="10.23" lengthAdjust="spacingAndGlyphs">88</text>
<text x="173.42" y="663.80" font-size="9.7" text-anchor="middle" textLength="10.23" lengthAdjust="spacingAndGlyphs">67</text>
<text x="199.60" y="663.80" font-size="9.7" text-anchor="middle" textLength="10.23" lengthAdjust="spacingAndGlyphs">56</text>
<text x="225.78" y="663.80" font-size="9.7" text-anchor="middle" textLength="10.23" lengthAdjust="spacingAndGlyphs">43</text>
<text x="251.96" y="663.80" font-size="9.7" text-anchor="middle" textLength="10.23" lengthAdjust="spacingAndGlyphs">28</text>
<text x="278.14" y="663.80" font-size="9.7" text-anchor="middle" textLength="9.55" lengthAdjust="spacingAndGlyphs">11</text>
<text x="304.32" y="663.80" font-size="9.7" text-anchor="middle" textLength="5.12" lengthAdjust="spacingAndGlyphs">4</text>
<text x="330.50" y="663.80" font-size="9.7" text-anchor="middle" textLength="5.12" lengthAdjust="spacingAndGlyphs">0</text>
<text x="47.60" y="675.10" font-size="9.7" text-anchor="end">3-4-</text>
<text x="68.70" y="675.10" font-size="9.7" text-anchor="middle" textLength="10.23" lengthAdjust="spacingAndGlyphs">90</text>
<text x="94.88" y="675.10" font-size="9.7" text-anchor="middle" textLength="10.23" lengthAdjust="spacingAndGlyphs">78</text>
<text x="121.06" y="675.10" font-size="9.7" text-anchor="middle" textLength="10.23" lengthAdjust="spacingAndGlyphs">69</text>
<text x="147.24" y="675.10" font-size="9.7" text-anchor="middle" textLength="10.23" lengthAdjust="spacingAndGlyphs">62</text>
<text x="173.42" y="675.10" font-size="9.7" text-anchor="middle" textLength="10.23" lengthAdjust="spacingAndGlyphs">54</text>
<text x="199.60" y="675.10" font-size="9.7" text-anchor="middle" textLength="10.23" lengthAdjust="spacingAndGlyphs">48</text>
<text x="225.78" y="675.10" font-size="9.7" text-anchor="middle" textLength="10.23" lengthAdjust="spacingAndGlyphs">38</text>
<text x="251.96" y="675.10" font-size="9.7" text-anchor="middle" textLength="10.23" lengthAdjust="spacingAndGlyphs">17</text>
<text x="278.14" y="675.10" font-size="9.7" text-anchor="middle" textLength="5.12" lengthAdjust="spacingAndGlyphs">7</text>
<text x="304.32" y="675.10" font-size="9.7" text-anchor="middle" textLength="5.12" lengthAdjust="spacingAndGlyphs">2</text>
<text x="330.50" y="675.10" font-size="9.7" text-anchor="middle" textLength="5.12" lengthAdjust="spacingAndGlyphs">0</text>
<text x="47.60" y="686.40" font-size="9.7" text-anchor="end">5-9-</text>
<text x="68.70" y="686.40" font-size="9.7" text-anchor="middle" textLength="10.23" lengthAdjust="spacingAndGlyphs">89</text>
<text x="94.88" y="686.40" font-size="9.7" text-anchor="middle" textLength="10.23" lengthAdjust="spacingAndGlyphs">75</text>
<text x="121.06" y="686.40" font-size="9.7" text-anchor="middle" textLength="10.23" lengthAdjust="spacingAndGlyphs">65</text>
<text x="147.24" y="686.40" font-size="9.7" text-anchor="middle" textLength="10.23" lengthAdjust="spacingAndGlyphs">55</text>
<text x="173.42" y="686.40" font-size="9.7" text-anchor="middle" textLength="10.23" lengthAdjust="spacingAndGlyphs">42</text>
<text x="199.60" y="686.40" font-size="9.7" text-anchor="middle" textLength="10.23" lengthAdjust="spacingAndGlyphs">34</text>
<text x="225.78" y="686.40" font-size="9.7" text-anchor="middle" textLength="10.23" lengthAdjust="spacingAndGlyphs">25</text>
<text x="251.96" y="686.40" font-size="9.7" text-anchor="middle" textLength="9.55" lengthAdjust="spacingAndGlyphs">11</text>
<text x="278.14" y="686.40" font-size="9.7" text-anchor="middle" textLength="5.12" lengthAdjust="spacingAndGlyphs">4</text>
<text x="304.32" y="686.40" font-size="9.7" text-anchor="middle" textLength="5.12" lengthAdjust="spacingAndGlyphs">0</text>
<text x="47.60" y="697.70" font-size="9.7" text-anchor="end">10-14-</text>
<text x="68.70" y="697.70" font-size="9.7" text-anchor="middle" textLength="10.23" lengthAdjust="spacingAndGlyphs">29</text>
<text x="94.88" y="697.70" font-size="9.7" text-anchor="middle" textLength="10.23" lengthAdjust="spacingAndGlyphs">24</text>
<text x="121.06" y="697.70" font-size="9.7" text-anchor="middle" textLength="10.23" lengthAdjust="spacingAndGlyphs">18</text>
<text x="147.24" y="697.70" font-size="9.7" text-anchor="middle" textLength="10.23" lengthAdjust="spacingAndGlyphs">13</text>
<text x="173.42" y="697.70" font-size="9.7" text-anchor="middle" textLength="10.23" lengthAdjust="spacingAndGlyphs">10</text>
<text x="199.60" y="697.70" font-size="9.7" text-anchor="middle" textLength="5.12" lengthAdjust="spacingAndGlyphs">8</text>
<text x="225.78" y="697.70" font-size="9.7" text-anchor="middle" textLength="5.12" lengthAdjust="spacingAndGlyphs">7</text>
<text x="251.96" y="697.70" font-size="9.7" text-anchor="middle" textLength="5.12" lengthAdjust="spacingAndGlyphs">3</text>
<text x="278.14" y="697.70" font-size="9.7" text-anchor="middle" textLength="5.12" lengthAdjust="spacingAndGlyphs">1</text>
<text x="304.32" y="697.70" font-size="9.7" text-anchor="middle" textLength="5.12" lengthAdjust="spacingAndGlyphs">0</text>
<text x="47.60" y="709.00" font-size="9.7" text-anchor="end" textLength="31.2" lengthAdjust="spacingAndGlyphs">&gt; = 15-</text>
<text x="68.70" y="709.00" font-size="9.7" text-anchor="middle" textLength="10.23" lengthAdjust="spacingAndGlyphs">19</text>
<text x="94.88" y="709.00" font-size="9.7" text-anchor="middle" textLength="10.23" lengthAdjust="spacingAndGlyphs">14</text>
<text x="121.06" y="709.00" font-size="9.7" text-anchor="middle" textLength="10.23" lengthAdjust="spacingAndGlyphs">12</text>
<text x="147.24" y="709.00" font-size="9.7" text-anchor="middle" textLength="5.12" lengthAdjust="spacingAndGlyphs">8</text>
<text x="173.42" y="709.00" font-size="9.7" text-anchor="middle" textLength="5.12" lengthAdjust="spacingAndGlyphs">8</text>
<text x="199.60" y="709.00" font-size="9.7" text-anchor="middle" textLength="5.12" lengthAdjust="spacingAndGlyphs">7</text>
<text x="225.78" y="709.00" font-size="9.7" text-anchor="middle" textLength="5.12" lengthAdjust="spacingAndGlyphs">6</text>
<text x="251.96" y="709.00" font-size="9.7" text-anchor="middle" textLength="5.12" lengthAdjust="spacingAndGlyphs">4</text>
<text x="278.14" y="709.00" font-size="9.7" text-anchor="middle" textLength="5.12" lengthAdjust="spacingAndGlyphs">2</text>
<text x="304.32" y="709.00" font-size="9.7" text-anchor="middle" textLength="5.12" lengthAdjust="spacingAndGlyphs">1</text>
<text x="330.50" y="709.00" font-size="9.7" text-anchor="middle" textLength="5.12" lengthAdjust="spacingAndGlyphs">0</text>
<text x="387.00" y="387.20" font-size="9.4" text-anchor="middle" font-weight="bold" style="fill:#000" textLength="54.2" lengthAdjust="spacingAndGlyphs">Cytogenetic</text>
<text x="386.90" y="398.40" font-size="9.4" text-anchor="middle" font-weight="bold" style="fill:#000" textLength="60.2" lengthAdjust="spacingAndGlyphs">abnormalities</text>
<text x="439.70" y="387.20" font-size="9.4" text-anchor="middle" font-weight="bold" style="fill:#000" textLength="33.6" lengthAdjust="spacingAndGlyphs">Events/</text>
<text x="439.50" y="398.40" font-size="9.4" text-anchor="middle" font-weight="bold" style="fill:#000" textLength="21.7" lengthAdjust="spacingAndGlyphs">Total</text>
<text x="485.60" y="387.20" font-size="9.4" text-anchor="middle" font-weight="bold" style="fill:#000" textLength="32.1" lengthAdjust="spacingAndGlyphs">Median</text>
<text x="485.60" y="398.40" font-size="9.4" text-anchor="middle" font-weight="bold" style="fill:#000" textLength="37.9" lengthAdjust="spacingAndGlyphs">(95% CI)</text>
<line x1="353.0" y1="411.20" x2="365.3" y2="411.20" stroke="#c30008" stroke-width="2"/>
<text x="386.70" y="414.60" font-size="9.6" text-anchor="middle">0</text>
<text x="439.40" y="414.60" font-size="9.6" text-anchor="middle">12/74</text>
<text x="485.60" y="414.60" font-size="9.6" text-anchor="middle" textLength="51.97" lengthAdjust="spacingAndGlyphs">NR (NR-NR)</text>
<line x1="352.3" y1="422.70" x2="366.0" y2="422.70" stroke="#c30008" stroke-width="2" stroke-dasharray="3.9 2.4"/>
<text x="386.70" y="426.10" font-size="9.6" text-anchor="middle">1–2</text>
<text x="439.40" y="426.10" font-size="9.6" text-anchor="middle">36/155</text>
<text x="485.60" y="426.10" font-size="9.6" text-anchor="middle" textLength="48.89" lengthAdjust="spacingAndGlyphs">NR (94-NR)</text>
<line x1="352.3" y1="434.20" x2="366.0" y2="434.20" stroke="#c30008" stroke-width="2" stroke-dasharray="1 1.08"/>
<text x="386.70" y="437.60" font-size="9.6" text-anchor="middle">3–4</text>
<text x="439.40" y="437.60" font-size="9.6" text-anchor="middle">23/90</text>
<text x="485.60" y="437.60" font-size="9.6" text-anchor="middle" textLength="51.97" lengthAdjust="spacingAndGlyphs">NR (NR-NR)</text>
<line x1="353.0" y1="445.70" x2="365.3" y2="445.70" stroke="#0020a0" stroke-width="2"/>
<text x="386.70" y="449.10" font-size="9.6" text-anchor="middle">5–9</text>
<text x="439.40" y="449.10" font-size="9.6" text-anchor="middle">46/89</text>
<text x="485.60" y="449.10" font-size="9.6" text-anchor="middle" textLength="44.8" lengthAdjust="spacingAndGlyphs">69 (48–86)</text>
<line x1="352.3" y1="457.20" x2="366.0" y2="457.20" stroke="#0020a0" stroke-width="2" stroke-dasharray="3.9 2.4"/>
<text x="386.70" y="460.60" font-size="9.6" text-anchor="middle">10–14</text>
<text x="439.40" y="460.60" font-size="9.6" text-anchor="middle">18/29</text>
<text x="485.60" y="460.60" font-size="9.6" text-anchor="middle" textLength="44.8" lengthAdjust="spacingAndGlyphs">46 (20–83)</text>
<line x1="352.3" y1="468.70" x2="366.0" y2="468.70" stroke="#0020a0" stroke-width="2" stroke-dasharray="1 1.08"/>
<text x="386.70" y="472.10" font-size="9.6" text-anchor="middle">&gt; = 15</text>
<text x="439.40" y="472.10" font-size="9.6" text-anchor="middle">12/19</text>
<text x="485.60" y="472.10" font-size="9.6" text-anchor="middle" textLength="45.81" lengthAdjust="spacingAndGlyphs">34 (15-NR)</text>
<text x="362.3" y="488.00" font-size="9.5" textLength="142.3" lengthAdjust="spacingAndGlyphs">Logrank <tspan font-style="italic">P</tspan>-value; &lt;.0001 + censor</text>
</svg>
</body></html>
